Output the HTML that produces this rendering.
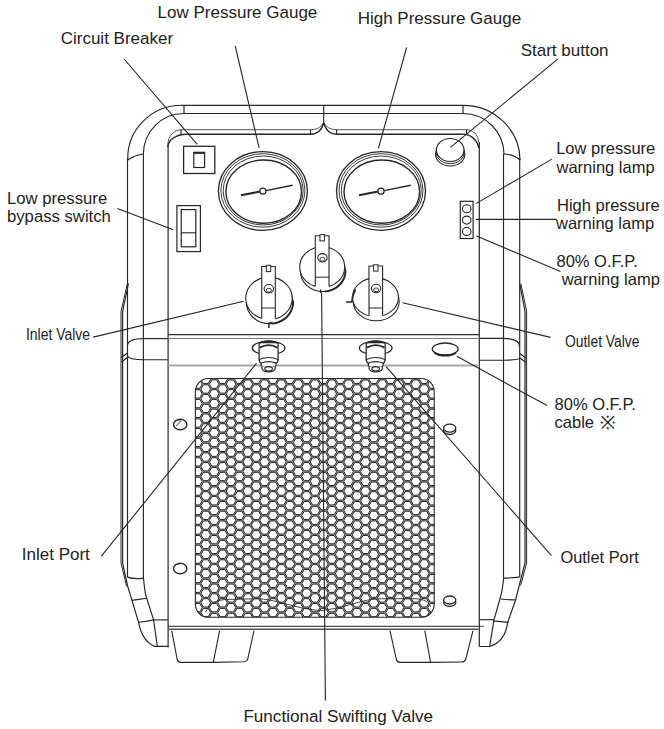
<!DOCTYPE html>
<html><head><meta charset="utf-8">
<style>
html,body{margin:0;padding:0;background:#fff;}
body{width:664px;height:729px;overflow:hidden;}
svg{display:block;}
text{font-family:"Liberation Sans",sans-serif;fill:#222;}
</style></head><body>
<svg width="664" height="729" viewBox="0 0 664 729">
<path d="M127.8,158 L127.8,160 A54,53 0 0 1 181.8,105.3 L463,105.3 A57,55 0 0 1 520,160.3" stroke="#262626" stroke-width="1.15" fill="none"/>
<path d="M143.4,154 A40.5,40.5 0 0 1 184,113.5 L463,113.5 A41,41 0 0 1 504,154.5" stroke="#262626" stroke-width="1.15" fill="none"/>
<line x1="184" y1="105.3" x2="184" y2="113.5" stroke="#262626" stroke-width="1.15"/>
<line x1="463" y1="105.3" x2="463" y2="113.5" stroke="#262626" stroke-width="1.15"/>
<path d="M127.8,160 Q135,155 143.4,154" stroke="#262626" stroke-width="1.15" fill="none"/>
<path d="M504,154 Q514,154.5 520,160" stroke="#262626" stroke-width="1.15" fill="none"/>
<line x1="127.5" y1="158" x2="127.5" y2="577.1" stroke="#262626" stroke-width="1.15"/>
<line x1="143.4" y1="154" x2="143.4" y2="579" stroke="#262626" stroke-width="1.15"/>
<line x1="503.5" y1="154" x2="503.5" y2="578" stroke="#262626" stroke-width="1.15"/>
<line x1="519.7" y1="158" x2="519.7" y2="577.1" stroke="#262626" stroke-width="1.15"/>
<path d="M128.5,283.4 L122.6,311.5 L122.6,563 L127.7,586.4 L138.6,622.3 Q142,641 154.8,646.4 L168.3,646.4" stroke="#262626" stroke-width="1.2" fill="none"/>
<path d="M127.3,284 L121.0,311.5 L121.0,563 L126.6,586.4" stroke="#262626" stroke-width="1.0" fill="none"/>
<path d="M143.5,578.1 Q144.5,589 145.7,595 L153.6,619.9 L157.3,646.4" stroke="#262626" stroke-width="1.15" fill="none"/>
<path d="M127.4,577.1 Q135,579.5 143.5,578.1" stroke="#262626" stroke-width="1.15" fill="none"/>
<path d="M131.6,600.4 Q139,599.5 146.5,598.3" stroke="#262626" stroke-width="1.15" fill="none"/>
<path d="M138.2,622.3 Q146,621.5 153.6,619.9" stroke="#262626" stroke-width="1.15" fill="none"/>
<line x1="153.6" y1="619.9" x2="168.3" y2="619.9" stroke="#262626" stroke-width="1.15"/>
<path d="M519.7,283.7 L525.0,311.2 L525.0,563 L519.2,585.7 L515.6,600 L507.7,622.4 Q505,642 489.6,646.5 L479.4,646.5" stroke="#262626" stroke-width="1.2" fill="none"/>
<path d="M520.9,283.7 L526.6,311.2 L526.6,563 L520.6,585.7" stroke="#262626" stroke-width="1.0" fill="none"/>
<path d="M503.6,578.1 Q502.5,590 500.5,597 L494.1,619.4 L489.6,646.5" stroke="#262626" stroke-width="1.15" fill="none"/>
<path d="M503.6,578.1 Q512,578 519.6,577.1" stroke="#262626" stroke-width="1.15" fill="none"/>
<path d="M500.9,599 Q508,600 515.3,599.8" stroke="#262626" stroke-width="1.15" fill="none"/>
<path d="M493.4,620.9 Q500,621.5 508.5,622.4" stroke="#262626" stroke-width="1.15" fill="none"/>
<line x1="479.4" y1="619.7" x2="493.8" y2="619.7" stroke="#262626" stroke-width="1.15"/>
<path d="M143.4,338.6 L168.3,338.6" stroke="#262626" stroke-width="1.15" fill="none"/>
<path d="M127.5,345 Q128.5,338.6 143.4,338.6" stroke="#262626" stroke-width="1.15" fill="none"/>
<path d="M127.5,356 Q129,359.7 143.4,359.7 L168.3,359.7" stroke="#262626" stroke-width="1.15" fill="none"/>
<path d="M121.3,357.5 L127.5,353 M121.3,362 L127.5,357.5" stroke="#262626" stroke-width="1.15" fill="none"/>
<path d="M479.3,338.4 L503.4,338.4 Q519.7,338.4 519.7,346.9" stroke="#262626" stroke-width="1.15" fill="none"/>
<path d="M479.3,360.2 L503.4,360.2 Q519.7,360.2 519.7,357.8" stroke="#262626" stroke-width="1.15" fill="none"/>
<path d="M519.7,353.5 L526,358 M519.7,357.8 L526,362.5" stroke="#262626" stroke-width="1.15" fill="none"/>
<path d="M167.8,144 A13.5,14.4 0 0 1 181,129.7 L310.5,129.7 Q320,129.7 323.7,122.6 Q327.4,129.7 336.6,129.7 L467,129.7 A12,12.3 0 0 1 478.7,142" stroke="#555" stroke-width="1.0" fill="none"/>
<path d="M167.8,147 A19,13 0 0 1 186.5,134.2 L310.5,134.2 Q321,134 323.7,122.6 Q326.4,134 336.6,134.2 L462,134.2 A16,16 0 0 1 478.7,148" stroke="#262626" stroke-width="1.4" fill="none"/>
<line x1="181" y1="129.7" x2="181" y2="134.2" stroke="#262626" stroke-width="1.15"/>
<line x1="310.5" y1="129.7" x2="310.5" y2="134.2" stroke="#262626" stroke-width="1.15"/>
<line x1="336.6" y1="129.7" x2="336.6" y2="134.2" stroke="#262626" stroke-width="1.15"/>
<line x1="466.5" y1="129.7" x2="466.5" y2="134.2" stroke="#262626" stroke-width="1.15"/>
<line x1="323.7" y1="105.3" x2="323.7" y2="122.6" stroke="#262626" stroke-width="1.15"/>
<line x1="168.1" y1="144" x2="168.1" y2="647.4" stroke="#262626" stroke-width="1.2"/>
<line x1="479.3" y1="142" x2="479.3" y2="646.6" stroke="#262626" stroke-width="1.2"/>
<line x1="168.1" y1="334.6" x2="479.3" y2="334.6" stroke="#333" stroke-width="1.4"/>
<line x1="168.1" y1="338.5" x2="479.3" y2="338.5" stroke="#777" stroke-width="1.0"/>
<line x1="168.1" y1="365.5" x2="479.3" y2="365.5" stroke="#a8a8a8" stroke-width="2.2"/>
<line x1="479.3" y1="360.2" x2="479.3" y2="360.2" stroke="#262626" stroke-width="1.15"/>
<line x1="168.1" y1="626.3" x2="478.5" y2="626.3" stroke="#262626" stroke-width="1.0"/>
<line x1="168.1" y1="629.3" x2="478.5" y2="629.3" stroke="#555" stroke-width="1.6"/>
<line x1="478.5" y1="626.3" x2="484" y2="626.3" stroke="#262626" stroke-width="0.8"/>
<line x1="168.1" y1="620.8" x2="168.1" y2="620.8" stroke="#262626" stroke-width="1.15"/>
<path d="M171.7,630.7 L177.2,659.5 Q178,662.4 181,662.4 L213.3,662.4 L219.6,630.7" stroke="#262626" stroke-width="1.1" fill="none"/>
<path d="M213.3,662.4 L244.5,661.8 Q247,661.5 247.7,659 L254,630.7" stroke="#262626" stroke-width="1.1" fill="none"/>
<path d="M390,630.7 L396.4,659.5 Q397.2,662.4 400,662.4 L430.6,662.4 L424.8,630.7" stroke="#262626" stroke-width="1.1" fill="none"/>
<path d="M430.6,662.4 L462,662 Q465,662 465.8,659 L473,630.7" stroke="#262626" stroke-width="1.1" fill="none"/>
<rect x="183.6" y="146.3" width="31.2" height="27.2" rx="0" stroke="#262626" stroke-width="1.3" fill="none"/>
<rect x="193.8" y="152.4" width="10.8" height="15.1" rx="0" stroke="#262626" stroke-width="1.2" fill="none"/>
<line x1="193.8" y1="152.9" x2="204.6" y2="152.9" stroke="#262626" stroke-width="2"/>
<rect x="176.9" y="205.6" width="23.5" height="46" rx="0" stroke="#262626" stroke-width="1.2" fill="none"/>
<rect x="181.2" y="209.6" width="14.6" height="37.2" rx="0" stroke="#262626" stroke-width="1.2" fill="none"/>
<line x1="181.2" y1="232.8" x2="195.8" y2="232.8" stroke="#262626" stroke-width="1.1"/>
<ellipse cx="262.9" cy="191.0" rx="44.5" ry="39.4" stroke="#262626" stroke-width="1.3" fill="none"/>
<ellipse cx="262.9" cy="190.45" rx="42.0" ry="36.75" stroke="#262626" stroke-width="0.9" fill="none"/>
<ellipse cx="263.2" cy="190.5" rx="40.0" ry="34.5" stroke="#262626" stroke-width="0.9" fill="none"/>
<ellipse cx="263.7" cy="191.65" rx="37.8" ry="31.65" stroke="#262626" stroke-width="1.4" fill="none"/>
<path d="M240.89999999999998,195.3 L259.9,191.6" stroke="#262626" stroke-width="2.0" fill="none"/>
<path d="M265.9,190.6 L292.7,185.3" stroke="#262626" stroke-width="1.4" fill="none"/>
<ellipse cx="262.9" cy="191.2" rx="3.1" ry="3.0" stroke="#262626" stroke-width="1.2" fill="#fff"/>
<ellipse cx="381.0" cy="191.0" rx="44.5" ry="39.4" stroke="#262626" stroke-width="1.3" fill="none"/>
<ellipse cx="381.0" cy="190.45" rx="42.0" ry="36.75" stroke="#262626" stroke-width="0.9" fill="none"/>
<ellipse cx="381.3" cy="190.5" rx="40.0" ry="34.5" stroke="#262626" stroke-width="0.9" fill="none"/>
<ellipse cx="381.8" cy="191.65" rx="37.8" ry="31.65" stroke="#262626" stroke-width="1.4" fill="none"/>
<path d="M359.0,195.3 L378.0,191.6" stroke="#262626" stroke-width="2.0" fill="none"/>
<path d="M384.0,190.6 L410.8,185.3" stroke="#262626" stroke-width="1.4" fill="none"/>
<ellipse cx="381.0" cy="191.2" rx="3.1" ry="3.0" stroke="#262626" stroke-width="1.2" fill="#fff"/>
<ellipse cx="450.2" cy="154.5" rx="14.6" ry="11.5" stroke="#262626" stroke-width="1.1" fill="none"/>
<ellipse cx="450.2" cy="152.5" rx="14.2" ry="11.2" stroke="#262626" stroke-width="1.0" fill="none"/>
<ellipse cx="450.2" cy="150.0" rx="13.8" ry="11.5" stroke="#262626" stroke-width="1.2" fill="#fff"/>
<rect x="460.3" y="201.3" width="12.8" height="37.2" rx="0" stroke="#262626" stroke-width="1.2" fill="none"/>
<ellipse cx="466.7" cy="208.8" rx="4.3" ry="4.0" stroke="#262626" stroke-width="1.1" fill="none"/>
<ellipse cx="466.7" cy="220.1" rx="4.3" ry="4.0" stroke="#262626" stroke-width="1.1" fill="none"/>
<ellipse cx="466.7" cy="231.4" rx="4.3" ry="4.0" stroke="#262626" stroke-width="1.1" fill="none"/>
<ellipse cx="269.7" cy="302.5" rx="23.3" ry="21.2" stroke="#262626" stroke-width="1.1" fill="none"/>
<path d="M292.91,300.65 L293.00,302.50 L292.91,304.35 L292.65,306.18 L292.21,307.99 L291.59,309.75 L290.82,311.46 L289.88,313.10 L288.79,314.66 L287.55,316.13 L286.18,317.49 L284.68,318.74 L283.06,319.87 L281.35,320.86 L279.55,321.71 L277.67,322.42 L275.73,322.98 L273.75,323.38 L271.73,323.62" stroke="#262626" stroke-width="1.9" fill="none"/>
<ellipse cx="269.0" cy="298.3" rx="23.3" ry="21.2" stroke="#262626" stroke-width="1.1" fill="#fff"/>
<rect x="261.7" y="266.5" width="13.600000000000023" height="54.0" fill="#fff"/>
<path d="M261.7,318.43 L261.7,266.5 L275.3,266.5 L275.3,318.71" stroke="#262626" stroke-width="1.1" fill="none"/>
<line x1="261.7" y1="308" x2="275.3" y2="308" stroke="#262626" stroke-width="1.0"/>
<rect x="266.3" y="265.3" width="4.4" height="6.3" rx="0" stroke="#262626" stroke-width="1.0" fill="#fff"/>
<ellipse cx="268.8" cy="288.76" rx="4.7" ry="4.2" stroke="#262626" stroke-width="1.1" fill="none"/>
<ellipse cx="268.8" cy="290.244" rx="2.6" ry="1.9" stroke="#262626" stroke-width="0.9" fill="none"/>
<ellipse cx="322.9" cy="271.2" rx="22.5" ry="20.3" stroke="#262626" stroke-width="1.1" fill="none"/>
<path d="M345.31,269.43 L345.40,271.20 L345.31,272.97 L345.06,274.73 L344.63,276.45 L344.04,278.14 L343.29,279.78 L342.39,281.35 L341.33,282.84 L340.14,284.25 L338.81,285.55 L337.36,286.75 L335.81,287.83 L334.15,288.78 L332.41,289.60 L330.60,290.28 L328.72,290.81 L326.81,291.19 L324.86,291.42" stroke="#262626" stroke-width="1.9" fill="none"/>
<ellipse cx="322.2" cy="267.0" rx="22.5" ry="20.3" stroke="#262626" stroke-width="1.1" fill="#fff"/>
<rect x="315.3" y="235.8" width="13.699999999999989" height="52.5" fill="#fff"/>
<path d="M315.3,286.32 L315.3,235.8 L329.0,235.8 L329.0,286.35" stroke="#262626" stroke-width="1.1" fill="none"/>
<line x1="315.3" y1="277.2" x2="329.0" y2="277.2" stroke="#262626" stroke-width="1.0"/>
<rect x="319.95" y="234.60000000000002" width="4.4" height="6.3" rx="0" stroke="#262626" stroke-width="1.0" fill="#fff"/>
<ellipse cx="322.45" cy="257.865" rx="4.7" ry="4.2" stroke="#262626" stroke-width="1.1" fill="none"/>
<ellipse cx="322.45" cy="259.286" rx="2.6" ry="1.9" stroke="#262626" stroke-width="0.9" fill="none"/>
<ellipse cx="376.2" cy="301.4" rx="23.0" ry="19.3" stroke="#262626" stroke-width="1.1" fill="none"/>
<ellipse cx="375.5" cy="297.2" rx="23.0" ry="19.3" stroke="#262626" stroke-width="1.1" fill="#fff"/>
<rect x="369.0" y="266.0" width="13.600000000000023" height="51.5" fill="#fff"/>
<path d="M369.0,315.71 L369.0,266.0 L382.6,266.0 L382.6,315.56" stroke="#262626" stroke-width="1.1" fill="none"/>
<line x1="369.0" y1="308" x2="382.6" y2="308" stroke="#262626" stroke-width="1.0"/>
<rect x="373.6" y="264.8" width="4.4" height="6.3" rx="0" stroke="#262626" stroke-width="1.0" fill="#fff"/>
<ellipse cx="376.1" cy="288.515" rx="4.7" ry="4.2" stroke="#262626" stroke-width="1.1" fill="none"/>
<ellipse cx="376.1" cy="289.866" rx="2.6" ry="1.9" stroke="#262626" stroke-width="0.9" fill="none"/>
<path d="M268.9,328 L268.9,323.2 L272.5,322.4" stroke="#262626" stroke-width="1.5" fill="none"/>
<path d="M320.6,289.5 L320.6,293" stroke="#262626" stroke-width="1.3" fill="none"/>
<path d="M346,302 L351.8,302 Q352,296 355.5,289.5" stroke="#262626" stroke-width="1.6" fill="none"/>
<ellipse cx="268.6" cy="348.0" rx="16.3" ry="6.75" stroke="#262626" stroke-width="1.3" fill="none"/>
<path d="M259.1,342.5 L259.1,360 Q268.6,364 278.1,360 L278.1,342.5 Z" stroke="#262626" stroke-width="1.25" fill="#fff"/>
<path d="M259.40000000000003,343.2 Q268.6,338.6 277.8,343.2" stroke="#262626" stroke-width="1.1" fill="none"/>
<path d="M259.8,347.6 Q268.6,342.6 277.40000000000003,347.6" stroke="#262626" stroke-width="1.9" fill="none"/>
<path d="M259.1,359.5 Q268.6,355.5 278.1,359.5 L277.20000000000005,362.5 Q268.6,366.3 260.0,362.5 Z" stroke="#262626" stroke-width="1.2" fill="#fff"/>
<path d="M261.0,363.2 Q268.6,360.2 276.20000000000005,363.2 L275.8,366 Q268.6,369 261.40000000000003,366 Z" stroke="#262626" stroke-width="1.2" fill="#fff"/>
<path d="M262.0,366.5 L262.0,368.6 Q262.6,371.8 268.6,371.8 Q274.6,371.8 275.20000000000005,368.6 L275.20000000000005,366.5" stroke="#262626" stroke-width="1.2" fill="#fff"/>
<ellipse cx="268.6" cy="368.8" rx="3.8" ry="2.2" stroke="#262626" stroke-width="1.1" fill="none"/>
<ellipse cx="375.7" cy="348.0" rx="16.3" ry="6.75" stroke="#262626" stroke-width="1.3" fill="none"/>
<path d="M366.2,342.5 L366.2,360 Q375.7,364 385.2,360 L385.2,342.5 Z" stroke="#262626" stroke-width="1.25" fill="#fff"/>
<path d="M366.5,343.2 Q375.7,338.6 384.9,343.2" stroke="#262626" stroke-width="1.1" fill="none"/>
<path d="M366.9,347.6 Q375.7,342.6 384.5,347.6" stroke="#262626" stroke-width="1.9" fill="none"/>
<path d="M366.2,359.5 Q375.7,355.5 385.2,359.5 L384.3,362.5 Q375.7,366.3 367.09999999999997,362.5 Z" stroke="#262626" stroke-width="1.2" fill="#fff"/>
<path d="M368.09999999999997,363.2 Q375.7,360.2 383.3,363.2 L382.9,366 Q375.7,369 368.5,366 Z" stroke="#262626" stroke-width="1.2" fill="#fff"/>
<path d="M369.09999999999997,366.5 L369.09999999999997,368.6 Q369.7,371.8 375.7,371.8 Q381.7,371.8 382.3,368.6 L382.3,366.5" stroke="#262626" stroke-width="1.2" fill="#fff"/>
<ellipse cx="375.7" cy="368.8" rx="3.8" ry="2.2" stroke="#262626" stroke-width="1.1" fill="none"/>
<path d="M434.5,352.5 Q438,355.6 445.2,355.6 Q452.5,355.6 456,352.5" stroke="#262626" stroke-width="2.0" fill="none"/>
<ellipse cx="445.2" cy="349.0" rx="12.9" ry="6.0" stroke="#262626" stroke-width="1.3" fill="none"/>
<ellipse cx="180.2" cy="424.5" rx="6.65" ry="5.25" stroke="#262626" stroke-width="1.4" fill="none"/>
<path d="M174.6,422.7 Q176.2,419.9 180.2,419.9" stroke="#555" stroke-width="0.9" fill="none"/>
<path d="M176,426.2 L181.2,420.3" stroke="#777" stroke-width="1.2" fill="none"/>
<ellipse cx="180.2" cy="568.5" rx="6.65" ry="5.25" stroke="#262626" stroke-width="1.4" fill="none"/>
<path d="M174.6,566.7 Q176.2,563.9 180.2,563.9" stroke="#555" stroke-width="0.9" fill="none"/>
<ellipse cx="449.7" cy="430.5" rx="6.1" ry="4.0" stroke="#262626" stroke-width="1.3" fill="none"/>
<ellipse cx="449.7" cy="428.1" rx="6.1" ry="4.0" stroke="#262626" stroke-width="1.3" fill="#fff"/>
<ellipse cx="449.7" cy="602.4" rx="6.1" ry="4.0" stroke="#262626" stroke-width="1.3" fill="none"/>
<ellipse cx="449.7" cy="600.0" rx="6.1" ry="4.0" stroke="#262626" stroke-width="1.3" fill="#fff"/>
<defs><clipPath id="gc"><rect x="195.4" y="378.5" width="238.79999999999998" height="238.79999999999995" rx="13"/></clipPath></defs>
<g clip-path="url(#gc)"><rect x="195.4" y="378.5" width="238.79999999999998" height="238.79999999999995" fill="#b0b0b0"/><path d="M202.20,374.42 L199.80,378.58 L195.00,378.58 L192.60,374.42 L195.00,370.26 L199.80,370.26Z M202.20,384.14 L199.80,388.30 L195.00,388.30 L192.60,384.14 L195.00,379.98 L199.80,379.98Z M202.20,393.86 L199.80,398.02 L195.00,398.02 L192.60,393.86 L195.00,389.70 L199.80,389.70Z M202.20,403.58 L199.80,407.74 L195.00,407.74 L192.60,403.58 L195.00,399.42 L199.80,399.42Z M202.20,413.30 L199.80,417.46 L195.00,417.46 L192.60,413.30 L195.00,409.14 L199.80,409.14Z M202.20,423.02 L199.80,427.18 L195.00,427.18 L192.60,423.02 L195.00,418.86 L199.80,418.86Z M202.20,432.74 L199.80,436.90 L195.00,436.90 L192.60,432.74 L195.00,428.58 L199.80,428.58Z M202.20,442.46 L199.80,446.62 L195.00,446.62 L192.60,442.46 L195.00,438.30 L199.80,438.30Z M202.20,452.18 L199.80,456.34 L195.00,456.34 L192.60,452.18 L195.00,448.02 L199.80,448.02Z M202.20,461.90 L199.80,466.06 L195.00,466.06 L192.60,461.90 L195.00,457.74 L199.80,457.74Z M202.20,471.62 L199.80,475.78 L195.00,475.78 L192.60,471.62 L195.00,467.46 L199.80,467.46Z M202.20,481.34 L199.80,485.50 L195.00,485.50 L192.60,481.34 L195.00,477.18 L199.80,477.18Z M202.20,491.06 L199.80,495.22 L195.00,495.22 L192.60,491.06 L195.00,486.90 L199.80,486.90Z M202.20,500.78 L199.80,504.94 L195.00,504.94 L192.60,500.78 L195.00,496.62 L199.80,496.62Z M202.20,510.50 L199.80,514.66 L195.00,514.66 L192.60,510.50 L195.00,506.34 L199.80,506.34Z M202.20,520.22 L199.80,524.38 L195.00,524.38 L192.60,520.22 L195.00,516.06 L199.80,516.06Z M202.20,529.94 L199.80,534.10 L195.00,534.10 L192.60,529.94 L195.00,525.78 L199.80,525.78Z M202.20,539.66 L199.80,543.82 L195.00,543.82 L192.60,539.66 L195.00,535.50 L199.80,535.50Z M202.20,549.38 L199.80,553.54 L195.00,553.54 L192.60,549.38 L195.00,545.22 L199.80,545.22Z M202.20,559.10 L199.80,563.26 L195.00,563.26 L192.60,559.10 L195.00,554.94 L199.80,554.94Z M202.20,568.82 L199.80,572.98 L195.00,572.98 L192.60,568.82 L195.00,564.66 L199.80,564.66Z M202.20,578.54 L199.80,582.70 L195.00,582.70 L192.60,578.54 L195.00,574.38 L199.80,574.38Z M202.20,588.26 L199.80,592.42 L195.00,592.42 L192.60,588.26 L195.00,584.10 L199.80,584.10Z M202.20,597.98 L199.80,602.14 L195.00,602.14 L192.60,597.98 L195.00,593.82 L199.80,593.82Z M202.20,607.70 L199.80,611.86 L195.00,611.86 L192.60,607.70 L195.00,603.54 L199.80,603.54Z M202.20,617.42 L199.80,621.58 L195.00,621.58 L192.60,617.42 L195.00,613.26 L199.80,613.26Z M210.60,379.28 L208.20,383.44 L203.40,383.44 L201.00,379.28 L203.40,375.12 L208.20,375.12Z M210.60,389.00 L208.20,393.16 L203.40,393.16 L201.00,389.00 L203.40,384.84 L208.20,384.84Z M210.60,398.72 L208.20,402.88 L203.40,402.88 L201.00,398.72 L203.40,394.56 L208.20,394.56Z M210.60,408.44 L208.20,412.60 L203.40,412.60 L201.00,408.44 L203.40,404.28 L208.20,404.28Z M210.60,418.16 L208.20,422.32 L203.40,422.32 L201.00,418.16 L203.40,414.00 L208.20,414.00Z M210.60,427.88 L208.20,432.04 L203.40,432.04 L201.00,427.88 L203.40,423.72 L208.20,423.72Z M210.60,437.60 L208.20,441.76 L203.40,441.76 L201.00,437.60 L203.40,433.44 L208.20,433.44Z M210.60,447.32 L208.20,451.48 L203.40,451.48 L201.00,447.32 L203.40,443.16 L208.20,443.16Z M210.60,457.04 L208.20,461.20 L203.40,461.20 L201.00,457.04 L203.40,452.88 L208.20,452.88Z M210.60,466.76 L208.20,470.92 L203.40,470.92 L201.00,466.76 L203.40,462.60 L208.20,462.60Z M210.60,476.48 L208.20,480.64 L203.40,480.64 L201.00,476.48 L203.40,472.32 L208.20,472.32Z M210.60,486.20 L208.20,490.36 L203.40,490.36 L201.00,486.20 L203.40,482.04 L208.20,482.04Z M210.60,495.92 L208.20,500.08 L203.40,500.08 L201.00,495.92 L203.40,491.76 L208.20,491.76Z M210.60,505.64 L208.20,509.80 L203.40,509.80 L201.00,505.64 L203.40,501.48 L208.20,501.48Z M210.60,515.36 L208.20,519.52 L203.40,519.52 L201.00,515.36 L203.40,511.20 L208.20,511.20Z M210.60,525.08 L208.20,529.24 L203.40,529.24 L201.00,525.08 L203.40,520.92 L208.20,520.92Z M210.60,534.80 L208.20,538.96 L203.40,538.96 L201.00,534.80 L203.40,530.64 L208.20,530.64Z M210.60,544.52 L208.20,548.68 L203.40,548.68 L201.00,544.52 L203.40,540.36 L208.20,540.36Z M210.60,554.24 L208.20,558.40 L203.40,558.40 L201.00,554.24 L203.40,550.08 L208.20,550.08Z M210.60,563.96 L208.20,568.12 L203.40,568.12 L201.00,563.96 L203.40,559.80 L208.20,559.80Z M210.60,573.68 L208.20,577.84 L203.40,577.84 L201.00,573.68 L203.40,569.52 L208.20,569.52Z M210.60,583.40 L208.20,587.56 L203.40,587.56 L201.00,583.40 L203.40,579.24 L208.20,579.24Z M210.60,593.12 L208.20,597.28 L203.40,597.28 L201.00,593.12 L203.40,588.96 L208.20,588.96Z M210.60,602.84 L208.20,607.00 L203.40,607.00 L201.00,602.84 L203.40,598.68 L208.20,598.68Z M210.60,612.56 L208.20,616.72 L203.40,616.72 L201.00,612.56 L203.40,608.40 L208.20,608.40Z M210.60,622.28 L208.20,626.44 L203.40,626.44 L201.00,622.28 L203.40,618.12 L208.20,618.12Z M219.00,374.42 L216.60,378.58 L211.80,378.58 L209.40,374.42 L211.80,370.26 L216.60,370.26Z M219.00,384.14 L216.60,388.30 L211.80,388.30 L209.40,384.14 L211.80,379.98 L216.60,379.98Z M219.00,393.86 L216.60,398.02 L211.80,398.02 L209.40,393.86 L211.80,389.70 L216.60,389.70Z M219.00,403.58 L216.60,407.74 L211.80,407.74 L209.40,403.58 L211.80,399.42 L216.60,399.42Z M219.00,413.30 L216.60,417.46 L211.80,417.46 L209.40,413.30 L211.80,409.14 L216.60,409.14Z M219.00,423.02 L216.60,427.18 L211.80,427.18 L209.40,423.02 L211.80,418.86 L216.60,418.86Z M219.00,432.74 L216.60,436.90 L211.80,436.90 L209.40,432.74 L211.80,428.58 L216.60,428.58Z M219.00,442.46 L216.60,446.62 L211.80,446.62 L209.40,442.46 L211.80,438.30 L216.60,438.30Z M219.00,452.18 L216.60,456.34 L211.80,456.34 L209.40,452.18 L211.80,448.02 L216.60,448.02Z M219.00,461.90 L216.60,466.06 L211.80,466.06 L209.40,461.90 L211.80,457.74 L216.60,457.74Z M219.00,471.62 L216.60,475.78 L211.80,475.78 L209.40,471.62 L211.80,467.46 L216.60,467.46Z M219.00,481.34 L216.60,485.50 L211.80,485.50 L209.40,481.34 L211.80,477.18 L216.60,477.18Z M219.00,491.06 L216.60,495.22 L211.80,495.22 L209.40,491.06 L211.80,486.90 L216.60,486.90Z M219.00,500.78 L216.60,504.94 L211.80,504.94 L209.40,500.78 L211.80,496.62 L216.60,496.62Z M219.00,510.50 L216.60,514.66 L211.80,514.66 L209.40,510.50 L211.80,506.34 L216.60,506.34Z M219.00,520.22 L216.60,524.38 L211.80,524.38 L209.40,520.22 L211.80,516.06 L216.60,516.06Z M219.00,529.94 L216.60,534.10 L211.80,534.10 L209.40,529.94 L211.80,525.78 L216.60,525.78Z M219.00,539.66 L216.60,543.82 L211.80,543.82 L209.40,539.66 L211.80,535.50 L216.60,535.50Z M219.00,549.38 L216.60,553.54 L211.80,553.54 L209.40,549.38 L211.80,545.22 L216.60,545.22Z M219.00,559.10 L216.60,563.26 L211.80,563.26 L209.40,559.10 L211.80,554.94 L216.60,554.94Z M219.00,568.82 L216.60,572.98 L211.80,572.98 L209.40,568.82 L211.80,564.66 L216.60,564.66Z M219.00,578.54 L216.60,582.70 L211.80,582.70 L209.40,578.54 L211.80,574.38 L216.60,574.38Z M219.00,588.26 L216.60,592.42 L211.80,592.42 L209.40,588.26 L211.80,584.10 L216.60,584.10Z M219.00,597.98 L216.60,602.14 L211.80,602.14 L209.40,597.98 L211.80,593.82 L216.60,593.82Z M219.00,607.70 L216.60,611.86 L211.80,611.86 L209.40,607.70 L211.80,603.54 L216.60,603.54Z M219.00,617.42 L216.60,621.58 L211.80,621.58 L209.40,617.42 L211.80,613.26 L216.60,613.26Z M227.40,379.28 L225.00,383.44 L220.20,383.44 L217.80,379.28 L220.20,375.12 L225.00,375.12Z M227.40,389.00 L225.00,393.16 L220.20,393.16 L217.80,389.00 L220.20,384.84 L225.00,384.84Z M227.40,398.72 L225.00,402.88 L220.20,402.88 L217.80,398.72 L220.20,394.56 L225.00,394.56Z M227.40,408.44 L225.00,412.60 L220.20,412.60 L217.80,408.44 L220.20,404.28 L225.00,404.28Z M227.40,418.16 L225.00,422.32 L220.20,422.32 L217.80,418.16 L220.20,414.00 L225.00,414.00Z M227.40,427.88 L225.00,432.04 L220.20,432.04 L217.80,427.88 L220.20,423.72 L225.00,423.72Z M227.40,437.60 L225.00,441.76 L220.20,441.76 L217.80,437.60 L220.20,433.44 L225.00,433.44Z M227.40,447.32 L225.00,451.48 L220.20,451.48 L217.80,447.32 L220.20,443.16 L225.00,443.16Z M227.40,457.04 L225.00,461.20 L220.20,461.20 L217.80,457.04 L220.20,452.88 L225.00,452.88Z M227.40,466.76 L225.00,470.92 L220.20,470.92 L217.80,466.76 L220.20,462.60 L225.00,462.60Z M227.40,476.48 L225.00,480.64 L220.20,480.64 L217.80,476.48 L220.20,472.32 L225.00,472.32Z M227.40,486.20 L225.00,490.36 L220.20,490.36 L217.80,486.20 L220.20,482.04 L225.00,482.04Z M227.40,495.92 L225.00,500.08 L220.20,500.08 L217.80,495.92 L220.20,491.76 L225.00,491.76Z M227.40,505.64 L225.00,509.80 L220.20,509.80 L217.80,505.64 L220.20,501.48 L225.00,501.48Z M227.40,515.36 L225.00,519.52 L220.20,519.52 L217.80,515.36 L220.20,511.20 L225.00,511.20Z M227.40,525.08 L225.00,529.24 L220.20,529.24 L217.80,525.08 L220.20,520.92 L225.00,520.92Z M227.40,534.80 L225.00,538.96 L220.20,538.96 L217.80,534.80 L220.20,530.64 L225.00,530.64Z M227.40,544.52 L225.00,548.68 L220.20,548.68 L217.80,544.52 L220.20,540.36 L225.00,540.36Z M227.40,554.24 L225.00,558.40 L220.20,558.40 L217.80,554.24 L220.20,550.08 L225.00,550.08Z M227.40,563.96 L225.00,568.12 L220.20,568.12 L217.80,563.96 L220.20,559.80 L225.00,559.80Z M227.40,573.68 L225.00,577.84 L220.20,577.84 L217.80,573.68 L220.20,569.52 L225.00,569.52Z M227.40,583.40 L225.00,587.56 L220.20,587.56 L217.80,583.40 L220.20,579.24 L225.00,579.24Z M227.40,593.12 L225.00,597.28 L220.20,597.28 L217.80,593.12 L220.20,588.96 L225.00,588.96Z M227.40,602.84 L225.00,607.00 L220.20,607.00 L217.80,602.84 L220.20,598.68 L225.00,598.68Z M227.40,612.56 L225.00,616.72 L220.20,616.72 L217.80,612.56 L220.20,608.40 L225.00,608.40Z M227.40,622.28 L225.00,626.44 L220.20,626.44 L217.80,622.28 L220.20,618.12 L225.00,618.12Z M235.80,374.42 L233.40,378.58 L228.60,378.58 L226.20,374.42 L228.60,370.26 L233.40,370.26Z M235.80,384.14 L233.40,388.30 L228.60,388.30 L226.20,384.14 L228.60,379.98 L233.40,379.98Z M235.80,393.86 L233.40,398.02 L228.60,398.02 L226.20,393.86 L228.60,389.70 L233.40,389.70Z M235.80,403.58 L233.40,407.74 L228.60,407.74 L226.20,403.58 L228.60,399.42 L233.40,399.42Z M235.80,413.30 L233.40,417.46 L228.60,417.46 L226.20,413.30 L228.60,409.14 L233.40,409.14Z M235.80,423.02 L233.40,427.18 L228.60,427.18 L226.20,423.02 L228.60,418.86 L233.40,418.86Z M235.80,432.74 L233.40,436.90 L228.60,436.90 L226.20,432.74 L228.60,428.58 L233.40,428.58Z M235.80,442.46 L233.40,446.62 L228.60,446.62 L226.20,442.46 L228.60,438.30 L233.40,438.30Z M235.80,452.18 L233.40,456.34 L228.60,456.34 L226.20,452.18 L228.60,448.02 L233.40,448.02Z M235.80,461.90 L233.40,466.06 L228.60,466.06 L226.20,461.90 L228.60,457.74 L233.40,457.74Z M235.80,471.62 L233.40,475.78 L228.60,475.78 L226.20,471.62 L228.60,467.46 L233.40,467.46Z M235.80,481.34 L233.40,485.50 L228.60,485.50 L226.20,481.34 L228.60,477.18 L233.40,477.18Z M235.80,491.06 L233.40,495.22 L228.60,495.22 L226.20,491.06 L228.60,486.90 L233.40,486.90Z M235.80,500.78 L233.40,504.94 L228.60,504.94 L226.20,500.78 L228.60,496.62 L233.40,496.62Z M235.80,510.50 L233.40,514.66 L228.60,514.66 L226.20,510.50 L228.60,506.34 L233.40,506.34Z M235.80,520.22 L233.40,524.38 L228.60,524.38 L226.20,520.22 L228.60,516.06 L233.40,516.06Z M235.80,529.94 L233.40,534.10 L228.60,534.10 L226.20,529.94 L228.60,525.78 L233.40,525.78Z M235.80,539.66 L233.40,543.82 L228.60,543.82 L226.20,539.66 L228.60,535.50 L233.40,535.50Z M235.80,549.38 L233.40,553.54 L228.60,553.54 L226.20,549.38 L228.60,545.22 L233.40,545.22Z M235.80,559.10 L233.40,563.26 L228.60,563.26 L226.20,559.10 L228.60,554.94 L233.40,554.94Z M235.80,568.82 L233.40,572.98 L228.60,572.98 L226.20,568.82 L228.60,564.66 L233.40,564.66Z M235.80,578.54 L233.40,582.70 L228.60,582.70 L226.20,578.54 L228.60,574.38 L233.40,574.38Z M235.80,588.26 L233.40,592.42 L228.60,592.42 L226.20,588.26 L228.60,584.10 L233.40,584.10Z M235.80,597.98 L233.40,602.14 L228.60,602.14 L226.20,597.98 L228.60,593.82 L233.40,593.82Z M235.80,607.70 L233.40,611.86 L228.60,611.86 L226.20,607.70 L228.60,603.54 L233.40,603.54Z M235.80,617.42 L233.40,621.58 L228.60,621.58 L226.20,617.42 L228.60,613.26 L233.40,613.26Z M244.20,379.28 L241.80,383.44 L237.00,383.44 L234.60,379.28 L237.00,375.12 L241.80,375.12Z M244.20,389.00 L241.80,393.16 L237.00,393.16 L234.60,389.00 L237.00,384.84 L241.80,384.84Z M244.20,398.72 L241.80,402.88 L237.00,402.88 L234.60,398.72 L237.00,394.56 L241.80,394.56Z M244.20,408.44 L241.80,412.60 L237.00,412.60 L234.60,408.44 L237.00,404.28 L241.80,404.28Z M244.20,418.16 L241.80,422.32 L237.00,422.32 L234.60,418.16 L237.00,414.00 L241.80,414.00Z M244.20,427.88 L241.80,432.04 L237.00,432.04 L234.60,427.88 L237.00,423.72 L241.80,423.72Z M244.20,437.60 L241.80,441.76 L237.00,441.76 L234.60,437.60 L237.00,433.44 L241.80,433.44Z M244.20,447.32 L241.80,451.48 L237.00,451.48 L234.60,447.32 L237.00,443.16 L241.80,443.16Z M244.20,457.04 L241.80,461.20 L237.00,461.20 L234.60,457.04 L237.00,452.88 L241.80,452.88Z M244.20,466.76 L241.80,470.92 L237.00,470.92 L234.60,466.76 L237.00,462.60 L241.80,462.60Z M244.20,476.48 L241.80,480.64 L237.00,480.64 L234.60,476.48 L237.00,472.32 L241.80,472.32Z M244.20,486.20 L241.80,490.36 L237.00,490.36 L234.60,486.20 L237.00,482.04 L241.80,482.04Z M244.20,495.92 L241.80,500.08 L237.00,500.08 L234.60,495.92 L237.00,491.76 L241.80,491.76Z M244.20,505.64 L241.80,509.80 L237.00,509.80 L234.60,505.64 L237.00,501.48 L241.80,501.48Z M244.20,515.36 L241.80,519.52 L237.00,519.52 L234.60,515.36 L237.00,511.20 L241.80,511.20Z M244.20,525.08 L241.80,529.24 L237.00,529.24 L234.60,525.08 L237.00,520.92 L241.80,520.92Z M244.20,534.80 L241.80,538.96 L237.00,538.96 L234.60,534.80 L237.00,530.64 L241.80,530.64Z M244.20,544.52 L241.80,548.68 L237.00,548.68 L234.60,544.52 L237.00,540.36 L241.80,540.36Z M244.20,554.24 L241.80,558.40 L237.00,558.40 L234.60,554.24 L237.00,550.08 L241.80,550.08Z M244.20,563.96 L241.80,568.12 L237.00,568.12 L234.60,563.96 L237.00,559.80 L241.80,559.80Z M244.20,573.68 L241.80,577.84 L237.00,577.84 L234.60,573.68 L237.00,569.52 L241.80,569.52Z M244.20,583.40 L241.80,587.56 L237.00,587.56 L234.60,583.40 L237.00,579.24 L241.80,579.24Z M244.20,593.12 L241.80,597.28 L237.00,597.28 L234.60,593.12 L237.00,588.96 L241.80,588.96Z M244.20,602.84 L241.80,607.00 L237.00,607.00 L234.60,602.84 L237.00,598.68 L241.80,598.68Z M244.20,612.56 L241.80,616.72 L237.00,616.72 L234.60,612.56 L237.00,608.40 L241.80,608.40Z M244.20,622.28 L241.80,626.44 L237.00,626.44 L234.60,622.28 L237.00,618.12 L241.80,618.12Z M252.60,374.42 L250.20,378.58 L245.40,378.58 L243.00,374.42 L245.40,370.26 L250.20,370.26Z M252.60,384.14 L250.20,388.30 L245.40,388.30 L243.00,384.14 L245.40,379.98 L250.20,379.98Z M252.60,393.86 L250.20,398.02 L245.40,398.02 L243.00,393.86 L245.40,389.70 L250.20,389.70Z M252.60,403.58 L250.20,407.74 L245.40,407.74 L243.00,403.58 L245.40,399.42 L250.20,399.42Z M252.60,413.30 L250.20,417.46 L245.40,417.46 L243.00,413.30 L245.40,409.14 L250.20,409.14Z M252.60,423.02 L250.20,427.18 L245.40,427.18 L243.00,423.02 L245.40,418.86 L250.20,418.86Z M252.60,432.74 L250.20,436.90 L245.40,436.90 L243.00,432.74 L245.40,428.58 L250.20,428.58Z M252.60,442.46 L250.20,446.62 L245.40,446.62 L243.00,442.46 L245.40,438.30 L250.20,438.30Z M252.60,452.18 L250.20,456.34 L245.40,456.34 L243.00,452.18 L245.40,448.02 L250.20,448.02Z M252.60,461.90 L250.20,466.06 L245.40,466.06 L243.00,461.90 L245.40,457.74 L250.20,457.74Z M252.60,471.62 L250.20,475.78 L245.40,475.78 L243.00,471.62 L245.40,467.46 L250.20,467.46Z M252.60,481.34 L250.20,485.50 L245.40,485.50 L243.00,481.34 L245.40,477.18 L250.20,477.18Z M252.60,491.06 L250.20,495.22 L245.40,495.22 L243.00,491.06 L245.40,486.90 L250.20,486.90Z M252.60,500.78 L250.20,504.94 L245.40,504.94 L243.00,500.78 L245.40,496.62 L250.20,496.62Z M252.60,510.50 L250.20,514.66 L245.40,514.66 L243.00,510.50 L245.40,506.34 L250.20,506.34Z M252.60,520.22 L250.20,524.38 L245.40,524.38 L243.00,520.22 L245.40,516.06 L250.20,516.06Z M252.60,529.94 L250.20,534.10 L245.40,534.10 L243.00,529.94 L245.40,525.78 L250.20,525.78Z M252.60,539.66 L250.20,543.82 L245.40,543.82 L243.00,539.66 L245.40,535.50 L250.20,535.50Z M252.60,549.38 L250.20,553.54 L245.40,553.54 L243.00,549.38 L245.40,545.22 L250.20,545.22Z M252.60,559.10 L250.20,563.26 L245.40,563.26 L243.00,559.10 L245.40,554.94 L250.20,554.94Z M252.60,568.82 L250.20,572.98 L245.40,572.98 L243.00,568.82 L245.40,564.66 L250.20,564.66Z M252.60,578.54 L250.20,582.70 L245.40,582.70 L243.00,578.54 L245.40,574.38 L250.20,574.38Z M252.60,588.26 L250.20,592.42 L245.40,592.42 L243.00,588.26 L245.40,584.10 L250.20,584.10Z M252.60,597.98 L250.20,602.14 L245.40,602.14 L243.00,597.98 L245.40,593.82 L250.20,593.82Z M252.60,607.70 L250.20,611.86 L245.40,611.86 L243.00,607.70 L245.40,603.54 L250.20,603.54Z M252.60,617.42 L250.20,621.58 L245.40,621.58 L243.00,617.42 L245.40,613.26 L250.20,613.26Z M261.00,379.28 L258.60,383.44 L253.80,383.44 L251.40,379.28 L253.80,375.12 L258.60,375.12Z M261.00,389.00 L258.60,393.16 L253.80,393.16 L251.40,389.00 L253.80,384.84 L258.60,384.84Z M261.00,398.72 L258.60,402.88 L253.80,402.88 L251.40,398.72 L253.80,394.56 L258.60,394.56Z M261.00,408.44 L258.60,412.60 L253.80,412.60 L251.40,408.44 L253.80,404.28 L258.60,404.28Z M261.00,418.16 L258.60,422.32 L253.80,422.32 L251.40,418.16 L253.80,414.00 L258.60,414.00Z M261.00,427.88 L258.60,432.04 L253.80,432.04 L251.40,427.88 L253.80,423.72 L258.60,423.72Z M261.00,437.60 L258.60,441.76 L253.80,441.76 L251.40,437.60 L253.80,433.44 L258.60,433.44Z M261.00,447.32 L258.60,451.48 L253.80,451.48 L251.40,447.32 L253.80,443.16 L258.60,443.16Z M261.00,457.04 L258.60,461.20 L253.80,461.20 L251.40,457.04 L253.80,452.88 L258.60,452.88Z M261.00,466.76 L258.60,470.92 L253.80,470.92 L251.40,466.76 L253.80,462.60 L258.60,462.60Z M261.00,476.48 L258.60,480.64 L253.80,480.64 L251.40,476.48 L253.80,472.32 L258.60,472.32Z M261.00,486.20 L258.60,490.36 L253.80,490.36 L251.40,486.20 L253.80,482.04 L258.60,482.04Z M261.00,495.92 L258.60,500.08 L253.80,500.08 L251.40,495.92 L253.80,491.76 L258.60,491.76Z M261.00,505.64 L258.60,509.80 L253.80,509.80 L251.40,505.64 L253.80,501.48 L258.60,501.48Z M261.00,515.36 L258.60,519.52 L253.80,519.52 L251.40,515.36 L253.80,511.20 L258.60,511.20Z M261.00,525.08 L258.60,529.24 L253.80,529.24 L251.40,525.08 L253.80,520.92 L258.60,520.92Z M261.00,534.80 L258.60,538.96 L253.80,538.96 L251.40,534.80 L253.80,530.64 L258.60,530.64Z M261.00,544.52 L258.60,548.68 L253.80,548.68 L251.40,544.52 L253.80,540.36 L258.60,540.36Z M261.00,554.24 L258.60,558.40 L253.80,558.40 L251.40,554.24 L253.80,550.08 L258.60,550.08Z M261.00,563.96 L258.60,568.12 L253.80,568.12 L251.40,563.96 L253.80,559.80 L258.60,559.80Z M261.00,573.68 L258.60,577.84 L253.80,577.84 L251.40,573.68 L253.80,569.52 L258.60,569.52Z M261.00,583.40 L258.60,587.56 L253.80,587.56 L251.40,583.40 L253.80,579.24 L258.60,579.24Z M261.00,593.12 L258.60,597.28 L253.80,597.28 L251.40,593.12 L253.80,588.96 L258.60,588.96Z M261.00,602.84 L258.60,607.00 L253.80,607.00 L251.40,602.84 L253.80,598.68 L258.60,598.68Z M261.00,612.56 L258.60,616.72 L253.80,616.72 L251.40,612.56 L253.80,608.40 L258.60,608.40Z M261.00,622.28 L258.60,626.44 L253.80,626.44 L251.40,622.28 L253.80,618.12 L258.60,618.12Z M269.40,374.42 L267.00,378.58 L262.20,378.58 L259.80,374.42 L262.20,370.26 L267.00,370.26Z M269.40,384.14 L267.00,388.30 L262.20,388.30 L259.80,384.14 L262.20,379.98 L267.00,379.98Z M269.40,393.86 L267.00,398.02 L262.20,398.02 L259.80,393.86 L262.20,389.70 L267.00,389.70Z M269.40,403.58 L267.00,407.74 L262.20,407.74 L259.80,403.58 L262.20,399.42 L267.00,399.42Z M269.40,413.30 L267.00,417.46 L262.20,417.46 L259.80,413.30 L262.20,409.14 L267.00,409.14Z M269.40,423.02 L267.00,427.18 L262.20,427.18 L259.80,423.02 L262.20,418.86 L267.00,418.86Z M269.40,432.74 L267.00,436.90 L262.20,436.90 L259.80,432.74 L262.20,428.58 L267.00,428.58Z M269.40,442.46 L267.00,446.62 L262.20,446.62 L259.80,442.46 L262.20,438.30 L267.00,438.30Z M269.40,452.18 L267.00,456.34 L262.20,456.34 L259.80,452.18 L262.20,448.02 L267.00,448.02Z M269.40,461.90 L267.00,466.06 L262.20,466.06 L259.80,461.90 L262.20,457.74 L267.00,457.74Z M269.40,471.62 L267.00,475.78 L262.20,475.78 L259.80,471.62 L262.20,467.46 L267.00,467.46Z M269.40,481.34 L267.00,485.50 L262.20,485.50 L259.80,481.34 L262.20,477.18 L267.00,477.18Z M269.40,491.06 L267.00,495.22 L262.20,495.22 L259.80,491.06 L262.20,486.90 L267.00,486.90Z M269.40,500.78 L267.00,504.94 L262.20,504.94 L259.80,500.78 L262.20,496.62 L267.00,496.62Z M269.40,510.50 L267.00,514.66 L262.20,514.66 L259.80,510.50 L262.20,506.34 L267.00,506.34Z M269.40,520.22 L267.00,524.38 L262.20,524.38 L259.80,520.22 L262.20,516.06 L267.00,516.06Z M269.40,529.94 L267.00,534.10 L262.20,534.10 L259.80,529.94 L262.20,525.78 L267.00,525.78Z M269.40,539.66 L267.00,543.82 L262.20,543.82 L259.80,539.66 L262.20,535.50 L267.00,535.50Z M269.40,549.38 L267.00,553.54 L262.20,553.54 L259.80,549.38 L262.20,545.22 L267.00,545.22Z M269.40,559.10 L267.00,563.26 L262.20,563.26 L259.80,559.10 L262.20,554.94 L267.00,554.94Z M269.40,568.82 L267.00,572.98 L262.20,572.98 L259.80,568.82 L262.20,564.66 L267.00,564.66Z M269.40,578.54 L267.00,582.70 L262.20,582.70 L259.80,578.54 L262.20,574.38 L267.00,574.38Z M269.40,588.26 L267.00,592.42 L262.20,592.42 L259.80,588.26 L262.20,584.10 L267.00,584.10Z M269.40,597.98 L267.00,602.14 L262.20,602.14 L259.80,597.98 L262.20,593.82 L267.00,593.82Z M269.40,607.70 L267.00,611.86 L262.20,611.86 L259.80,607.70 L262.20,603.54 L267.00,603.54Z M269.40,617.42 L267.00,621.58 L262.20,621.58 L259.80,617.42 L262.20,613.26 L267.00,613.26Z M277.80,379.28 L275.40,383.44 L270.60,383.44 L268.20,379.28 L270.60,375.12 L275.40,375.12Z M277.80,389.00 L275.40,393.16 L270.60,393.16 L268.20,389.00 L270.60,384.84 L275.40,384.84Z M277.80,398.72 L275.40,402.88 L270.60,402.88 L268.20,398.72 L270.60,394.56 L275.40,394.56Z M277.80,408.44 L275.40,412.60 L270.60,412.60 L268.20,408.44 L270.60,404.28 L275.40,404.28Z M277.80,418.16 L275.40,422.32 L270.60,422.32 L268.20,418.16 L270.60,414.00 L275.40,414.00Z M277.80,427.88 L275.40,432.04 L270.60,432.04 L268.20,427.88 L270.60,423.72 L275.40,423.72Z M277.80,437.60 L275.40,441.76 L270.60,441.76 L268.20,437.60 L270.60,433.44 L275.40,433.44Z M277.80,447.32 L275.40,451.48 L270.60,451.48 L268.20,447.32 L270.60,443.16 L275.40,443.16Z M277.80,457.04 L275.40,461.20 L270.60,461.20 L268.20,457.04 L270.60,452.88 L275.40,452.88Z M277.80,466.76 L275.40,470.92 L270.60,470.92 L268.20,466.76 L270.60,462.60 L275.40,462.60Z M277.80,476.48 L275.40,480.64 L270.60,480.64 L268.20,476.48 L270.60,472.32 L275.40,472.32Z M277.80,486.20 L275.40,490.36 L270.60,490.36 L268.20,486.20 L270.60,482.04 L275.40,482.04Z M277.80,495.92 L275.40,500.08 L270.60,500.08 L268.20,495.92 L270.60,491.76 L275.40,491.76Z M277.80,505.64 L275.40,509.80 L270.60,509.80 L268.20,505.64 L270.60,501.48 L275.40,501.48Z M277.80,515.36 L275.40,519.52 L270.60,519.52 L268.20,515.36 L270.60,511.20 L275.40,511.20Z M277.80,525.08 L275.40,529.24 L270.60,529.24 L268.20,525.08 L270.60,520.92 L275.40,520.92Z M277.80,534.80 L275.40,538.96 L270.60,538.96 L268.20,534.80 L270.60,530.64 L275.40,530.64Z M277.80,544.52 L275.40,548.68 L270.60,548.68 L268.20,544.52 L270.60,540.36 L275.40,540.36Z M277.80,554.24 L275.40,558.40 L270.60,558.40 L268.20,554.24 L270.60,550.08 L275.40,550.08Z M277.80,563.96 L275.40,568.12 L270.60,568.12 L268.20,563.96 L270.60,559.80 L275.40,559.80Z M277.80,573.68 L275.40,577.84 L270.60,577.84 L268.20,573.68 L270.60,569.52 L275.40,569.52Z M277.80,583.40 L275.40,587.56 L270.60,587.56 L268.20,583.40 L270.60,579.24 L275.40,579.24Z M277.80,593.12 L275.40,597.28 L270.60,597.28 L268.20,593.12 L270.60,588.96 L275.40,588.96Z M277.80,602.84 L275.40,607.00 L270.60,607.00 L268.20,602.84 L270.60,598.68 L275.40,598.68Z M277.80,612.56 L275.40,616.72 L270.60,616.72 L268.20,612.56 L270.60,608.40 L275.40,608.40Z M277.80,622.28 L275.40,626.44 L270.60,626.44 L268.20,622.28 L270.60,618.12 L275.40,618.12Z M286.20,374.42 L283.80,378.58 L279.00,378.58 L276.60,374.42 L279.00,370.26 L283.80,370.26Z M286.20,384.14 L283.80,388.30 L279.00,388.30 L276.60,384.14 L279.00,379.98 L283.80,379.98Z M286.20,393.86 L283.80,398.02 L279.00,398.02 L276.60,393.86 L279.00,389.70 L283.80,389.70Z M286.20,403.58 L283.80,407.74 L279.00,407.74 L276.60,403.58 L279.00,399.42 L283.80,399.42Z M286.20,413.30 L283.80,417.46 L279.00,417.46 L276.60,413.30 L279.00,409.14 L283.80,409.14Z M286.20,423.02 L283.80,427.18 L279.00,427.18 L276.60,423.02 L279.00,418.86 L283.80,418.86Z M286.20,432.74 L283.80,436.90 L279.00,436.90 L276.60,432.74 L279.00,428.58 L283.80,428.58Z M286.20,442.46 L283.80,446.62 L279.00,446.62 L276.60,442.46 L279.00,438.30 L283.80,438.30Z M286.20,452.18 L283.80,456.34 L279.00,456.34 L276.60,452.18 L279.00,448.02 L283.80,448.02Z M286.20,461.90 L283.80,466.06 L279.00,466.06 L276.60,461.90 L279.00,457.74 L283.80,457.74Z M286.20,471.62 L283.80,475.78 L279.00,475.78 L276.60,471.62 L279.00,467.46 L283.80,467.46Z M286.20,481.34 L283.80,485.50 L279.00,485.50 L276.60,481.34 L279.00,477.18 L283.80,477.18Z M286.20,491.06 L283.80,495.22 L279.00,495.22 L276.60,491.06 L279.00,486.90 L283.80,486.90Z M286.20,500.78 L283.80,504.94 L279.00,504.94 L276.60,500.78 L279.00,496.62 L283.80,496.62Z M286.20,510.50 L283.80,514.66 L279.00,514.66 L276.60,510.50 L279.00,506.34 L283.80,506.34Z M286.20,520.22 L283.80,524.38 L279.00,524.38 L276.60,520.22 L279.00,516.06 L283.80,516.06Z M286.20,529.94 L283.80,534.10 L279.00,534.10 L276.60,529.94 L279.00,525.78 L283.80,525.78Z M286.20,539.66 L283.80,543.82 L279.00,543.82 L276.60,539.66 L279.00,535.50 L283.80,535.50Z M286.20,549.38 L283.80,553.54 L279.00,553.54 L276.60,549.38 L279.00,545.22 L283.80,545.22Z M286.20,559.10 L283.80,563.26 L279.00,563.26 L276.60,559.10 L279.00,554.94 L283.80,554.94Z M286.20,568.82 L283.80,572.98 L279.00,572.98 L276.60,568.82 L279.00,564.66 L283.80,564.66Z M286.20,578.54 L283.80,582.70 L279.00,582.70 L276.60,578.54 L279.00,574.38 L283.80,574.38Z M286.20,588.26 L283.80,592.42 L279.00,592.42 L276.60,588.26 L279.00,584.10 L283.80,584.10Z M286.20,597.98 L283.80,602.14 L279.00,602.14 L276.60,597.98 L279.00,593.82 L283.80,593.82Z M286.20,607.70 L283.80,611.86 L279.00,611.86 L276.60,607.70 L279.00,603.54 L283.80,603.54Z M286.20,617.42 L283.80,621.58 L279.00,621.58 L276.60,617.42 L279.00,613.26 L283.80,613.26Z M294.60,379.28 L292.20,383.44 L287.40,383.44 L285.00,379.28 L287.40,375.12 L292.20,375.12Z M294.60,389.00 L292.20,393.16 L287.40,393.16 L285.00,389.00 L287.40,384.84 L292.20,384.84Z M294.60,398.72 L292.20,402.88 L287.40,402.88 L285.00,398.72 L287.40,394.56 L292.20,394.56Z M294.60,408.44 L292.20,412.60 L287.40,412.60 L285.00,408.44 L287.40,404.28 L292.20,404.28Z M294.60,418.16 L292.20,422.32 L287.40,422.32 L285.00,418.16 L287.40,414.00 L292.20,414.00Z M294.60,427.88 L292.20,432.04 L287.40,432.04 L285.00,427.88 L287.40,423.72 L292.20,423.72Z M294.60,437.60 L292.20,441.76 L287.40,441.76 L285.00,437.60 L287.40,433.44 L292.20,433.44Z M294.60,447.32 L292.20,451.48 L287.40,451.48 L285.00,447.32 L287.40,443.16 L292.20,443.16Z M294.60,457.04 L292.20,461.20 L287.40,461.20 L285.00,457.04 L287.40,452.88 L292.20,452.88Z M294.60,466.76 L292.20,470.92 L287.40,470.92 L285.00,466.76 L287.40,462.60 L292.20,462.60Z M294.60,476.48 L292.20,480.64 L287.40,480.64 L285.00,476.48 L287.40,472.32 L292.20,472.32Z M294.60,486.20 L292.20,490.36 L287.40,490.36 L285.00,486.20 L287.40,482.04 L292.20,482.04Z M294.60,495.92 L292.20,500.08 L287.40,500.08 L285.00,495.92 L287.40,491.76 L292.20,491.76Z M294.60,505.64 L292.20,509.80 L287.40,509.80 L285.00,505.64 L287.40,501.48 L292.20,501.48Z M294.60,515.36 L292.20,519.52 L287.40,519.52 L285.00,515.36 L287.40,511.20 L292.20,511.20Z M294.60,525.08 L292.20,529.24 L287.40,529.24 L285.00,525.08 L287.40,520.92 L292.20,520.92Z M294.60,534.80 L292.20,538.96 L287.40,538.96 L285.00,534.80 L287.40,530.64 L292.20,530.64Z M294.60,544.52 L292.20,548.68 L287.40,548.68 L285.00,544.52 L287.40,540.36 L292.20,540.36Z M294.60,554.24 L292.20,558.40 L287.40,558.40 L285.00,554.24 L287.40,550.08 L292.20,550.08Z M294.60,563.96 L292.20,568.12 L287.40,568.12 L285.00,563.96 L287.40,559.80 L292.20,559.80Z M294.60,573.68 L292.20,577.84 L287.40,577.84 L285.00,573.68 L287.40,569.52 L292.20,569.52Z M294.60,583.40 L292.20,587.56 L287.40,587.56 L285.00,583.40 L287.40,579.24 L292.20,579.24Z M294.60,593.12 L292.20,597.28 L287.40,597.28 L285.00,593.12 L287.40,588.96 L292.20,588.96Z M294.60,602.84 L292.20,607.00 L287.40,607.00 L285.00,602.84 L287.40,598.68 L292.20,598.68Z M294.60,612.56 L292.20,616.72 L287.40,616.72 L285.00,612.56 L287.40,608.40 L292.20,608.40Z M294.60,622.28 L292.20,626.44 L287.40,626.44 L285.00,622.28 L287.40,618.12 L292.20,618.12Z M303.00,374.42 L300.60,378.58 L295.80,378.58 L293.40,374.42 L295.80,370.26 L300.60,370.26Z M303.00,384.14 L300.60,388.30 L295.80,388.30 L293.40,384.14 L295.80,379.98 L300.60,379.98Z M303.00,393.86 L300.60,398.02 L295.80,398.02 L293.40,393.86 L295.80,389.70 L300.60,389.70Z M303.00,403.58 L300.60,407.74 L295.80,407.74 L293.40,403.58 L295.80,399.42 L300.60,399.42Z M303.00,413.30 L300.60,417.46 L295.80,417.46 L293.40,413.30 L295.80,409.14 L300.60,409.14Z M303.00,423.02 L300.60,427.18 L295.80,427.18 L293.40,423.02 L295.80,418.86 L300.60,418.86Z M303.00,432.74 L300.60,436.90 L295.80,436.90 L293.40,432.74 L295.80,428.58 L300.60,428.58Z M303.00,442.46 L300.60,446.62 L295.80,446.62 L293.40,442.46 L295.80,438.30 L300.60,438.30Z M303.00,452.18 L300.60,456.34 L295.80,456.34 L293.40,452.18 L295.80,448.02 L300.60,448.02Z M303.00,461.90 L300.60,466.06 L295.80,466.06 L293.40,461.90 L295.80,457.74 L300.60,457.74Z M303.00,471.62 L300.60,475.78 L295.80,475.78 L293.40,471.62 L295.80,467.46 L300.60,467.46Z M303.00,481.34 L300.60,485.50 L295.80,485.50 L293.40,481.34 L295.80,477.18 L300.60,477.18Z M303.00,491.06 L300.60,495.22 L295.80,495.22 L293.40,491.06 L295.80,486.90 L300.60,486.90Z M303.00,500.78 L300.60,504.94 L295.80,504.94 L293.40,500.78 L295.80,496.62 L300.60,496.62Z M303.00,510.50 L300.60,514.66 L295.80,514.66 L293.40,510.50 L295.80,506.34 L300.60,506.34Z M303.00,520.22 L300.60,524.38 L295.80,524.38 L293.40,520.22 L295.80,516.06 L300.60,516.06Z M303.00,529.94 L300.60,534.10 L295.80,534.10 L293.40,529.94 L295.80,525.78 L300.60,525.78Z M303.00,539.66 L300.60,543.82 L295.80,543.82 L293.40,539.66 L295.80,535.50 L300.60,535.50Z M303.00,549.38 L300.60,553.54 L295.80,553.54 L293.40,549.38 L295.80,545.22 L300.60,545.22Z M303.00,559.10 L300.60,563.26 L295.80,563.26 L293.40,559.10 L295.80,554.94 L300.60,554.94Z M303.00,568.82 L300.60,572.98 L295.80,572.98 L293.40,568.82 L295.80,564.66 L300.60,564.66Z M303.00,578.54 L300.60,582.70 L295.80,582.70 L293.40,578.54 L295.80,574.38 L300.60,574.38Z M303.00,588.26 L300.60,592.42 L295.80,592.42 L293.40,588.26 L295.80,584.10 L300.60,584.10Z M303.00,597.98 L300.60,602.14 L295.80,602.14 L293.40,597.98 L295.80,593.82 L300.60,593.82Z M303.00,607.70 L300.60,611.86 L295.80,611.86 L293.40,607.70 L295.80,603.54 L300.60,603.54Z M303.00,617.42 L300.60,621.58 L295.80,621.58 L293.40,617.42 L295.80,613.26 L300.60,613.26Z M311.40,379.28 L309.00,383.44 L304.20,383.44 L301.80,379.28 L304.20,375.12 L309.00,375.12Z M311.40,389.00 L309.00,393.16 L304.20,393.16 L301.80,389.00 L304.20,384.84 L309.00,384.84Z M311.40,398.72 L309.00,402.88 L304.20,402.88 L301.80,398.72 L304.20,394.56 L309.00,394.56Z M311.40,408.44 L309.00,412.60 L304.20,412.60 L301.80,408.44 L304.20,404.28 L309.00,404.28Z M311.40,418.16 L309.00,422.32 L304.20,422.32 L301.80,418.16 L304.20,414.00 L309.00,414.00Z M311.40,427.88 L309.00,432.04 L304.20,432.04 L301.80,427.88 L304.20,423.72 L309.00,423.72Z M311.40,437.60 L309.00,441.76 L304.20,441.76 L301.80,437.60 L304.20,433.44 L309.00,433.44Z M311.40,447.32 L309.00,451.48 L304.20,451.48 L301.80,447.32 L304.20,443.16 L309.00,443.16Z M311.40,457.04 L309.00,461.20 L304.20,461.20 L301.80,457.04 L304.20,452.88 L309.00,452.88Z M311.40,466.76 L309.00,470.92 L304.20,470.92 L301.80,466.76 L304.20,462.60 L309.00,462.60Z M311.40,476.48 L309.00,480.64 L304.20,480.64 L301.80,476.48 L304.20,472.32 L309.00,472.32Z M311.40,486.20 L309.00,490.36 L304.20,490.36 L301.80,486.20 L304.20,482.04 L309.00,482.04Z M311.40,495.92 L309.00,500.08 L304.20,500.08 L301.80,495.92 L304.20,491.76 L309.00,491.76Z M311.40,505.64 L309.00,509.80 L304.20,509.80 L301.80,505.64 L304.20,501.48 L309.00,501.48Z M311.40,515.36 L309.00,519.52 L304.20,519.52 L301.80,515.36 L304.20,511.20 L309.00,511.20Z M311.40,525.08 L309.00,529.24 L304.20,529.24 L301.80,525.08 L304.20,520.92 L309.00,520.92Z M311.40,534.80 L309.00,538.96 L304.20,538.96 L301.80,534.80 L304.20,530.64 L309.00,530.64Z M311.40,544.52 L309.00,548.68 L304.20,548.68 L301.80,544.52 L304.20,540.36 L309.00,540.36Z M311.40,554.24 L309.00,558.40 L304.20,558.40 L301.80,554.24 L304.20,550.08 L309.00,550.08Z M311.40,563.96 L309.00,568.12 L304.20,568.12 L301.80,563.96 L304.20,559.80 L309.00,559.80Z M311.40,573.68 L309.00,577.84 L304.20,577.84 L301.80,573.68 L304.20,569.52 L309.00,569.52Z M311.40,583.40 L309.00,587.56 L304.20,587.56 L301.80,583.40 L304.20,579.24 L309.00,579.24Z M311.40,593.12 L309.00,597.28 L304.20,597.28 L301.80,593.12 L304.20,588.96 L309.00,588.96Z M311.40,602.84 L309.00,607.00 L304.20,607.00 L301.80,602.84 L304.20,598.68 L309.00,598.68Z M311.40,612.56 L309.00,616.72 L304.20,616.72 L301.80,612.56 L304.20,608.40 L309.00,608.40Z M311.40,622.28 L309.00,626.44 L304.20,626.44 L301.80,622.28 L304.20,618.12 L309.00,618.12Z M319.80,374.42 L317.40,378.58 L312.60,378.58 L310.20,374.42 L312.60,370.26 L317.40,370.26Z M319.80,384.14 L317.40,388.30 L312.60,388.30 L310.20,384.14 L312.60,379.98 L317.40,379.98Z M319.80,393.86 L317.40,398.02 L312.60,398.02 L310.20,393.86 L312.60,389.70 L317.40,389.70Z M319.80,403.58 L317.40,407.74 L312.60,407.74 L310.20,403.58 L312.60,399.42 L317.40,399.42Z M319.80,413.30 L317.40,417.46 L312.60,417.46 L310.20,413.30 L312.60,409.14 L317.40,409.14Z M319.80,423.02 L317.40,427.18 L312.60,427.18 L310.20,423.02 L312.60,418.86 L317.40,418.86Z M319.80,432.74 L317.40,436.90 L312.60,436.90 L310.20,432.74 L312.60,428.58 L317.40,428.58Z M319.80,442.46 L317.40,446.62 L312.60,446.62 L310.20,442.46 L312.60,438.30 L317.40,438.30Z M319.80,452.18 L317.40,456.34 L312.60,456.34 L310.20,452.18 L312.60,448.02 L317.40,448.02Z M319.80,461.90 L317.40,466.06 L312.60,466.06 L310.20,461.90 L312.60,457.74 L317.40,457.74Z M319.80,471.62 L317.40,475.78 L312.60,475.78 L310.20,471.62 L312.60,467.46 L317.40,467.46Z M319.80,481.34 L317.40,485.50 L312.60,485.50 L310.20,481.34 L312.60,477.18 L317.40,477.18Z M319.80,491.06 L317.40,495.22 L312.60,495.22 L310.20,491.06 L312.60,486.90 L317.40,486.90Z M319.80,500.78 L317.40,504.94 L312.60,504.94 L310.20,500.78 L312.60,496.62 L317.40,496.62Z M319.80,510.50 L317.40,514.66 L312.60,514.66 L310.20,510.50 L312.60,506.34 L317.40,506.34Z M319.80,520.22 L317.40,524.38 L312.60,524.38 L310.20,520.22 L312.60,516.06 L317.40,516.06Z M319.80,529.94 L317.40,534.10 L312.60,534.10 L310.20,529.94 L312.60,525.78 L317.40,525.78Z M319.80,539.66 L317.40,543.82 L312.60,543.82 L310.20,539.66 L312.60,535.50 L317.40,535.50Z M319.80,549.38 L317.40,553.54 L312.60,553.54 L310.20,549.38 L312.60,545.22 L317.40,545.22Z M319.80,559.10 L317.40,563.26 L312.60,563.26 L310.20,559.10 L312.60,554.94 L317.40,554.94Z M319.80,568.82 L317.40,572.98 L312.60,572.98 L310.20,568.82 L312.60,564.66 L317.40,564.66Z M319.80,578.54 L317.40,582.70 L312.60,582.70 L310.20,578.54 L312.60,574.38 L317.40,574.38Z M319.80,588.26 L317.40,592.42 L312.60,592.42 L310.20,588.26 L312.60,584.10 L317.40,584.10Z M319.80,597.98 L317.40,602.14 L312.60,602.14 L310.20,597.98 L312.60,593.82 L317.40,593.82Z M319.80,607.70 L317.40,611.86 L312.60,611.86 L310.20,607.70 L312.60,603.54 L317.40,603.54Z M319.80,617.42 L317.40,621.58 L312.60,621.58 L310.20,617.42 L312.60,613.26 L317.40,613.26Z M328.20,379.28 L325.80,383.44 L321.00,383.44 L318.60,379.28 L321.00,375.12 L325.80,375.12Z M328.20,389.00 L325.80,393.16 L321.00,393.16 L318.60,389.00 L321.00,384.84 L325.80,384.84Z M328.20,398.72 L325.80,402.88 L321.00,402.88 L318.60,398.72 L321.00,394.56 L325.80,394.56Z M328.20,408.44 L325.80,412.60 L321.00,412.60 L318.60,408.44 L321.00,404.28 L325.80,404.28Z M328.20,418.16 L325.80,422.32 L321.00,422.32 L318.60,418.16 L321.00,414.00 L325.80,414.00Z M328.20,427.88 L325.80,432.04 L321.00,432.04 L318.60,427.88 L321.00,423.72 L325.80,423.72Z M328.20,437.60 L325.80,441.76 L321.00,441.76 L318.60,437.60 L321.00,433.44 L325.80,433.44Z M328.20,447.32 L325.80,451.48 L321.00,451.48 L318.60,447.32 L321.00,443.16 L325.80,443.16Z M328.20,457.04 L325.80,461.20 L321.00,461.20 L318.60,457.04 L321.00,452.88 L325.80,452.88Z M328.20,466.76 L325.80,470.92 L321.00,470.92 L318.60,466.76 L321.00,462.60 L325.80,462.60Z M328.20,476.48 L325.80,480.64 L321.00,480.64 L318.60,476.48 L321.00,472.32 L325.80,472.32Z M328.20,486.20 L325.80,490.36 L321.00,490.36 L318.60,486.20 L321.00,482.04 L325.80,482.04Z M328.20,495.92 L325.80,500.08 L321.00,500.08 L318.60,495.92 L321.00,491.76 L325.80,491.76Z M328.20,505.64 L325.80,509.80 L321.00,509.80 L318.60,505.64 L321.00,501.48 L325.80,501.48Z M328.20,515.36 L325.80,519.52 L321.00,519.52 L318.60,515.36 L321.00,511.20 L325.80,511.20Z M328.20,525.08 L325.80,529.24 L321.00,529.24 L318.60,525.08 L321.00,520.92 L325.80,520.92Z M328.20,534.80 L325.80,538.96 L321.00,538.96 L318.60,534.80 L321.00,530.64 L325.80,530.64Z M328.20,544.52 L325.80,548.68 L321.00,548.68 L318.60,544.52 L321.00,540.36 L325.80,540.36Z M328.20,554.24 L325.80,558.40 L321.00,558.40 L318.60,554.24 L321.00,550.08 L325.80,550.08Z M328.20,563.96 L325.80,568.12 L321.00,568.12 L318.60,563.96 L321.00,559.80 L325.80,559.80Z M328.20,573.68 L325.80,577.84 L321.00,577.84 L318.60,573.68 L321.00,569.52 L325.80,569.52Z M328.20,583.40 L325.80,587.56 L321.00,587.56 L318.60,583.40 L321.00,579.24 L325.80,579.24Z M328.20,593.12 L325.80,597.28 L321.00,597.28 L318.60,593.12 L321.00,588.96 L325.80,588.96Z M328.20,602.84 L325.80,607.00 L321.00,607.00 L318.60,602.84 L321.00,598.68 L325.80,598.68Z M328.20,612.56 L325.80,616.72 L321.00,616.72 L318.60,612.56 L321.00,608.40 L325.80,608.40Z M328.20,622.28 L325.80,626.44 L321.00,626.44 L318.60,622.28 L321.00,618.12 L325.80,618.12Z M336.60,374.42 L334.20,378.58 L329.40,378.58 L327.00,374.42 L329.40,370.26 L334.20,370.26Z M336.60,384.14 L334.20,388.30 L329.40,388.30 L327.00,384.14 L329.40,379.98 L334.20,379.98Z M336.60,393.86 L334.20,398.02 L329.40,398.02 L327.00,393.86 L329.40,389.70 L334.20,389.70Z M336.60,403.58 L334.20,407.74 L329.40,407.74 L327.00,403.58 L329.40,399.42 L334.20,399.42Z M336.60,413.30 L334.20,417.46 L329.40,417.46 L327.00,413.30 L329.40,409.14 L334.20,409.14Z M336.60,423.02 L334.20,427.18 L329.40,427.18 L327.00,423.02 L329.40,418.86 L334.20,418.86Z M336.60,432.74 L334.20,436.90 L329.40,436.90 L327.00,432.74 L329.40,428.58 L334.20,428.58Z M336.60,442.46 L334.20,446.62 L329.40,446.62 L327.00,442.46 L329.40,438.30 L334.20,438.30Z M336.60,452.18 L334.20,456.34 L329.40,456.34 L327.00,452.18 L329.40,448.02 L334.20,448.02Z M336.60,461.90 L334.20,466.06 L329.40,466.06 L327.00,461.90 L329.40,457.74 L334.20,457.74Z M336.60,471.62 L334.20,475.78 L329.40,475.78 L327.00,471.62 L329.40,467.46 L334.20,467.46Z M336.60,481.34 L334.20,485.50 L329.40,485.50 L327.00,481.34 L329.40,477.18 L334.20,477.18Z M336.60,491.06 L334.20,495.22 L329.40,495.22 L327.00,491.06 L329.40,486.90 L334.20,486.90Z M336.60,500.78 L334.20,504.94 L329.40,504.94 L327.00,500.78 L329.40,496.62 L334.20,496.62Z M336.60,510.50 L334.20,514.66 L329.40,514.66 L327.00,510.50 L329.40,506.34 L334.20,506.34Z M336.60,520.22 L334.20,524.38 L329.40,524.38 L327.00,520.22 L329.40,516.06 L334.20,516.06Z M336.60,529.94 L334.20,534.10 L329.40,534.10 L327.00,529.94 L329.40,525.78 L334.20,525.78Z M336.60,539.66 L334.20,543.82 L329.40,543.82 L327.00,539.66 L329.40,535.50 L334.20,535.50Z M336.60,549.38 L334.20,553.54 L329.40,553.54 L327.00,549.38 L329.40,545.22 L334.20,545.22Z M336.60,559.10 L334.20,563.26 L329.40,563.26 L327.00,559.10 L329.40,554.94 L334.20,554.94Z M336.60,568.82 L334.20,572.98 L329.40,572.98 L327.00,568.82 L329.40,564.66 L334.20,564.66Z M336.60,578.54 L334.20,582.70 L329.40,582.70 L327.00,578.54 L329.40,574.38 L334.20,574.38Z M336.60,588.26 L334.20,592.42 L329.40,592.42 L327.00,588.26 L329.40,584.10 L334.20,584.10Z M336.60,597.98 L334.20,602.14 L329.40,602.14 L327.00,597.98 L329.40,593.82 L334.20,593.82Z M336.60,607.70 L334.20,611.86 L329.40,611.86 L327.00,607.70 L329.40,603.54 L334.20,603.54Z M336.60,617.42 L334.20,621.58 L329.40,621.58 L327.00,617.42 L329.40,613.26 L334.20,613.26Z M345.00,379.28 L342.60,383.44 L337.80,383.44 L335.40,379.28 L337.80,375.12 L342.60,375.12Z M345.00,389.00 L342.60,393.16 L337.80,393.16 L335.40,389.00 L337.80,384.84 L342.60,384.84Z M345.00,398.72 L342.60,402.88 L337.80,402.88 L335.40,398.72 L337.80,394.56 L342.60,394.56Z M345.00,408.44 L342.60,412.60 L337.80,412.60 L335.40,408.44 L337.80,404.28 L342.60,404.28Z M345.00,418.16 L342.60,422.32 L337.80,422.32 L335.40,418.16 L337.80,414.00 L342.60,414.00Z M345.00,427.88 L342.60,432.04 L337.80,432.04 L335.40,427.88 L337.80,423.72 L342.60,423.72Z M345.00,437.60 L342.60,441.76 L337.80,441.76 L335.40,437.60 L337.80,433.44 L342.60,433.44Z M345.00,447.32 L342.60,451.48 L337.80,451.48 L335.40,447.32 L337.80,443.16 L342.60,443.16Z M345.00,457.04 L342.60,461.20 L337.80,461.20 L335.40,457.04 L337.80,452.88 L342.60,452.88Z M345.00,466.76 L342.60,470.92 L337.80,470.92 L335.40,466.76 L337.80,462.60 L342.60,462.60Z M345.00,476.48 L342.60,480.64 L337.80,480.64 L335.40,476.48 L337.80,472.32 L342.60,472.32Z M345.00,486.20 L342.60,490.36 L337.80,490.36 L335.40,486.20 L337.80,482.04 L342.60,482.04Z M345.00,495.92 L342.60,500.08 L337.80,500.08 L335.40,495.92 L337.80,491.76 L342.60,491.76Z M345.00,505.64 L342.60,509.80 L337.80,509.80 L335.40,505.64 L337.80,501.48 L342.60,501.48Z M345.00,515.36 L342.60,519.52 L337.80,519.52 L335.40,515.36 L337.80,511.20 L342.60,511.20Z M345.00,525.08 L342.60,529.24 L337.80,529.24 L335.40,525.08 L337.80,520.92 L342.60,520.92Z M345.00,534.80 L342.60,538.96 L337.80,538.96 L335.40,534.80 L337.80,530.64 L342.60,530.64Z M345.00,544.52 L342.60,548.68 L337.80,548.68 L335.40,544.52 L337.80,540.36 L342.60,540.36Z M345.00,554.24 L342.60,558.40 L337.80,558.40 L335.40,554.24 L337.80,550.08 L342.60,550.08Z M345.00,563.96 L342.60,568.12 L337.80,568.12 L335.40,563.96 L337.80,559.80 L342.60,559.80Z M345.00,573.68 L342.60,577.84 L337.80,577.84 L335.40,573.68 L337.80,569.52 L342.60,569.52Z M345.00,583.40 L342.60,587.56 L337.80,587.56 L335.40,583.40 L337.80,579.24 L342.60,579.24Z M345.00,593.12 L342.60,597.28 L337.80,597.28 L335.40,593.12 L337.80,588.96 L342.60,588.96Z M345.00,602.84 L342.60,607.00 L337.80,607.00 L335.40,602.84 L337.80,598.68 L342.60,598.68Z M345.00,612.56 L342.60,616.72 L337.80,616.72 L335.40,612.56 L337.80,608.40 L342.60,608.40Z M345.00,622.28 L342.60,626.44 L337.80,626.44 L335.40,622.28 L337.80,618.12 L342.60,618.12Z M353.40,374.42 L351.00,378.58 L346.20,378.58 L343.80,374.42 L346.20,370.26 L351.00,370.26Z M353.40,384.14 L351.00,388.30 L346.20,388.30 L343.80,384.14 L346.20,379.98 L351.00,379.98Z M353.40,393.86 L351.00,398.02 L346.20,398.02 L343.80,393.86 L346.20,389.70 L351.00,389.70Z M353.40,403.58 L351.00,407.74 L346.20,407.74 L343.80,403.58 L346.20,399.42 L351.00,399.42Z M353.40,413.30 L351.00,417.46 L346.20,417.46 L343.80,413.30 L346.20,409.14 L351.00,409.14Z M353.40,423.02 L351.00,427.18 L346.20,427.18 L343.80,423.02 L346.20,418.86 L351.00,418.86Z M353.40,432.74 L351.00,436.90 L346.20,436.90 L343.80,432.74 L346.20,428.58 L351.00,428.58Z M353.40,442.46 L351.00,446.62 L346.20,446.62 L343.80,442.46 L346.20,438.30 L351.00,438.30Z M353.40,452.18 L351.00,456.34 L346.20,456.34 L343.80,452.18 L346.20,448.02 L351.00,448.02Z M353.40,461.90 L351.00,466.06 L346.20,466.06 L343.80,461.90 L346.20,457.74 L351.00,457.74Z M353.40,471.62 L351.00,475.78 L346.20,475.78 L343.80,471.62 L346.20,467.46 L351.00,467.46Z M353.40,481.34 L351.00,485.50 L346.20,485.50 L343.80,481.34 L346.20,477.18 L351.00,477.18Z M353.40,491.06 L351.00,495.22 L346.20,495.22 L343.80,491.06 L346.20,486.90 L351.00,486.90Z M353.40,500.78 L351.00,504.94 L346.20,504.94 L343.80,500.78 L346.20,496.62 L351.00,496.62Z M353.40,510.50 L351.00,514.66 L346.20,514.66 L343.80,510.50 L346.20,506.34 L351.00,506.34Z M353.40,520.22 L351.00,524.38 L346.20,524.38 L343.80,520.22 L346.20,516.06 L351.00,516.06Z M353.40,529.94 L351.00,534.10 L346.20,534.10 L343.80,529.94 L346.20,525.78 L351.00,525.78Z M353.40,539.66 L351.00,543.82 L346.20,543.82 L343.80,539.66 L346.20,535.50 L351.00,535.50Z M353.40,549.38 L351.00,553.54 L346.20,553.54 L343.80,549.38 L346.20,545.22 L351.00,545.22Z M353.40,559.10 L351.00,563.26 L346.20,563.26 L343.80,559.10 L346.20,554.94 L351.00,554.94Z M353.40,568.82 L351.00,572.98 L346.20,572.98 L343.80,568.82 L346.20,564.66 L351.00,564.66Z M353.40,578.54 L351.00,582.70 L346.20,582.70 L343.80,578.54 L346.20,574.38 L351.00,574.38Z M353.40,588.26 L351.00,592.42 L346.20,592.42 L343.80,588.26 L346.20,584.10 L351.00,584.10Z M353.40,597.98 L351.00,602.14 L346.20,602.14 L343.80,597.98 L346.20,593.82 L351.00,593.82Z M353.40,607.70 L351.00,611.86 L346.20,611.86 L343.80,607.70 L346.20,603.54 L351.00,603.54Z M353.40,617.42 L351.00,621.58 L346.20,621.58 L343.80,617.42 L346.20,613.26 L351.00,613.26Z M361.80,379.28 L359.40,383.44 L354.60,383.44 L352.20,379.28 L354.60,375.12 L359.40,375.12Z M361.80,389.00 L359.40,393.16 L354.60,393.16 L352.20,389.00 L354.60,384.84 L359.40,384.84Z M361.80,398.72 L359.40,402.88 L354.60,402.88 L352.20,398.72 L354.60,394.56 L359.40,394.56Z M361.80,408.44 L359.40,412.60 L354.60,412.60 L352.20,408.44 L354.60,404.28 L359.40,404.28Z M361.80,418.16 L359.40,422.32 L354.60,422.32 L352.20,418.16 L354.60,414.00 L359.40,414.00Z M361.80,427.88 L359.40,432.04 L354.60,432.04 L352.20,427.88 L354.60,423.72 L359.40,423.72Z M361.80,437.60 L359.40,441.76 L354.60,441.76 L352.20,437.60 L354.60,433.44 L359.40,433.44Z M361.80,447.32 L359.40,451.48 L354.60,451.48 L352.20,447.32 L354.60,443.16 L359.40,443.16Z M361.80,457.04 L359.40,461.20 L354.60,461.20 L352.20,457.04 L354.60,452.88 L359.40,452.88Z M361.80,466.76 L359.40,470.92 L354.60,470.92 L352.20,466.76 L354.60,462.60 L359.40,462.60Z M361.80,476.48 L359.40,480.64 L354.60,480.64 L352.20,476.48 L354.60,472.32 L359.40,472.32Z M361.80,486.20 L359.40,490.36 L354.60,490.36 L352.20,486.20 L354.60,482.04 L359.40,482.04Z M361.80,495.92 L359.40,500.08 L354.60,500.08 L352.20,495.92 L354.60,491.76 L359.40,491.76Z M361.80,505.64 L359.40,509.80 L354.60,509.80 L352.20,505.64 L354.60,501.48 L359.40,501.48Z M361.80,515.36 L359.40,519.52 L354.60,519.52 L352.20,515.36 L354.60,511.20 L359.40,511.20Z M361.80,525.08 L359.40,529.24 L354.60,529.24 L352.20,525.08 L354.60,520.92 L359.40,520.92Z M361.80,534.80 L359.40,538.96 L354.60,538.96 L352.20,534.80 L354.60,530.64 L359.40,530.64Z M361.80,544.52 L359.40,548.68 L354.60,548.68 L352.20,544.52 L354.60,540.36 L359.40,540.36Z M361.80,554.24 L359.40,558.40 L354.60,558.40 L352.20,554.24 L354.60,550.08 L359.40,550.08Z M361.80,563.96 L359.40,568.12 L354.60,568.12 L352.20,563.96 L354.60,559.80 L359.40,559.80Z M361.80,573.68 L359.40,577.84 L354.60,577.84 L352.20,573.68 L354.60,569.52 L359.40,569.52Z M361.80,583.40 L359.40,587.56 L354.60,587.56 L352.20,583.40 L354.60,579.24 L359.40,579.24Z M361.80,593.12 L359.40,597.28 L354.60,597.28 L352.20,593.12 L354.60,588.96 L359.40,588.96Z M361.80,602.84 L359.40,607.00 L354.60,607.00 L352.20,602.84 L354.60,598.68 L359.40,598.68Z M361.80,612.56 L359.40,616.72 L354.60,616.72 L352.20,612.56 L354.60,608.40 L359.40,608.40Z M361.80,622.28 L359.40,626.44 L354.60,626.44 L352.20,622.28 L354.60,618.12 L359.40,618.12Z M370.20,374.42 L367.80,378.58 L363.00,378.58 L360.60,374.42 L363.00,370.26 L367.80,370.26Z M370.20,384.14 L367.80,388.30 L363.00,388.30 L360.60,384.14 L363.00,379.98 L367.80,379.98Z M370.20,393.86 L367.80,398.02 L363.00,398.02 L360.60,393.86 L363.00,389.70 L367.80,389.70Z M370.20,403.58 L367.80,407.74 L363.00,407.74 L360.60,403.58 L363.00,399.42 L367.80,399.42Z M370.20,413.30 L367.80,417.46 L363.00,417.46 L360.60,413.30 L363.00,409.14 L367.80,409.14Z M370.20,423.02 L367.80,427.18 L363.00,427.18 L360.60,423.02 L363.00,418.86 L367.80,418.86Z M370.20,432.74 L367.80,436.90 L363.00,436.90 L360.60,432.74 L363.00,428.58 L367.80,428.58Z M370.20,442.46 L367.80,446.62 L363.00,446.62 L360.60,442.46 L363.00,438.30 L367.80,438.30Z M370.20,452.18 L367.80,456.34 L363.00,456.34 L360.60,452.18 L363.00,448.02 L367.80,448.02Z M370.20,461.90 L367.80,466.06 L363.00,466.06 L360.60,461.90 L363.00,457.74 L367.80,457.74Z M370.20,471.62 L367.80,475.78 L363.00,475.78 L360.60,471.62 L363.00,467.46 L367.80,467.46Z M370.20,481.34 L367.80,485.50 L363.00,485.50 L360.60,481.34 L363.00,477.18 L367.80,477.18Z M370.20,491.06 L367.80,495.22 L363.00,495.22 L360.60,491.06 L363.00,486.90 L367.80,486.90Z M370.20,500.78 L367.80,504.94 L363.00,504.94 L360.60,500.78 L363.00,496.62 L367.80,496.62Z M370.20,510.50 L367.80,514.66 L363.00,514.66 L360.60,510.50 L363.00,506.34 L367.80,506.34Z M370.20,520.22 L367.80,524.38 L363.00,524.38 L360.60,520.22 L363.00,516.06 L367.80,516.06Z M370.20,529.94 L367.80,534.10 L363.00,534.10 L360.60,529.94 L363.00,525.78 L367.80,525.78Z M370.20,539.66 L367.80,543.82 L363.00,543.82 L360.60,539.66 L363.00,535.50 L367.80,535.50Z M370.20,549.38 L367.80,553.54 L363.00,553.54 L360.60,549.38 L363.00,545.22 L367.80,545.22Z M370.20,559.10 L367.80,563.26 L363.00,563.26 L360.60,559.10 L363.00,554.94 L367.80,554.94Z M370.20,568.82 L367.80,572.98 L363.00,572.98 L360.60,568.82 L363.00,564.66 L367.80,564.66Z M370.20,578.54 L367.80,582.70 L363.00,582.70 L360.60,578.54 L363.00,574.38 L367.80,574.38Z M370.20,588.26 L367.80,592.42 L363.00,592.42 L360.60,588.26 L363.00,584.10 L367.80,584.10Z M370.20,597.98 L367.80,602.14 L363.00,602.14 L360.60,597.98 L363.00,593.82 L367.80,593.82Z M370.20,607.70 L367.80,611.86 L363.00,611.86 L360.60,607.70 L363.00,603.54 L367.80,603.54Z M370.20,617.42 L367.80,621.58 L363.00,621.58 L360.60,617.42 L363.00,613.26 L367.80,613.26Z M378.60,379.28 L376.20,383.44 L371.40,383.44 L369.00,379.28 L371.40,375.12 L376.20,375.12Z M378.60,389.00 L376.20,393.16 L371.40,393.16 L369.00,389.00 L371.40,384.84 L376.20,384.84Z M378.60,398.72 L376.20,402.88 L371.40,402.88 L369.00,398.72 L371.40,394.56 L376.20,394.56Z M378.60,408.44 L376.20,412.60 L371.40,412.60 L369.00,408.44 L371.40,404.28 L376.20,404.28Z M378.60,418.16 L376.20,422.32 L371.40,422.32 L369.00,418.16 L371.40,414.00 L376.20,414.00Z M378.60,427.88 L376.20,432.04 L371.40,432.04 L369.00,427.88 L371.40,423.72 L376.20,423.72Z M378.60,437.60 L376.20,441.76 L371.40,441.76 L369.00,437.60 L371.40,433.44 L376.20,433.44Z M378.60,447.32 L376.20,451.48 L371.40,451.48 L369.00,447.32 L371.40,443.16 L376.20,443.16Z M378.60,457.04 L376.20,461.20 L371.40,461.20 L369.00,457.04 L371.40,452.88 L376.20,452.88Z M378.60,466.76 L376.20,470.92 L371.40,470.92 L369.00,466.76 L371.40,462.60 L376.20,462.60Z M378.60,476.48 L376.20,480.64 L371.40,480.64 L369.00,476.48 L371.40,472.32 L376.20,472.32Z M378.60,486.20 L376.20,490.36 L371.40,490.36 L369.00,486.20 L371.40,482.04 L376.20,482.04Z M378.60,495.92 L376.20,500.08 L371.40,500.08 L369.00,495.92 L371.40,491.76 L376.20,491.76Z M378.60,505.64 L376.20,509.80 L371.40,509.80 L369.00,505.64 L371.40,501.48 L376.20,501.48Z M378.60,515.36 L376.20,519.52 L371.40,519.52 L369.00,515.36 L371.40,511.20 L376.20,511.20Z M378.60,525.08 L376.20,529.24 L371.40,529.24 L369.00,525.08 L371.40,520.92 L376.20,520.92Z M378.60,534.80 L376.20,538.96 L371.40,538.96 L369.00,534.80 L371.40,530.64 L376.20,530.64Z M378.60,544.52 L376.20,548.68 L371.40,548.68 L369.00,544.52 L371.40,540.36 L376.20,540.36Z M378.60,554.24 L376.20,558.40 L371.40,558.40 L369.00,554.24 L371.40,550.08 L376.20,550.08Z M378.60,563.96 L376.20,568.12 L371.40,568.12 L369.00,563.96 L371.40,559.80 L376.20,559.80Z M378.60,573.68 L376.20,577.84 L371.40,577.84 L369.00,573.68 L371.40,569.52 L376.20,569.52Z M378.60,583.40 L376.20,587.56 L371.40,587.56 L369.00,583.40 L371.40,579.24 L376.20,579.24Z M378.60,593.12 L376.20,597.28 L371.40,597.28 L369.00,593.12 L371.40,588.96 L376.20,588.96Z M378.60,602.84 L376.20,607.00 L371.40,607.00 L369.00,602.84 L371.40,598.68 L376.20,598.68Z M378.60,612.56 L376.20,616.72 L371.40,616.72 L369.00,612.56 L371.40,608.40 L376.20,608.40Z M378.60,622.28 L376.20,626.44 L371.40,626.44 L369.00,622.28 L371.40,618.12 L376.20,618.12Z M387.00,374.42 L384.60,378.58 L379.80,378.58 L377.40,374.42 L379.80,370.26 L384.60,370.26Z M387.00,384.14 L384.60,388.30 L379.80,388.30 L377.40,384.14 L379.80,379.98 L384.60,379.98Z M387.00,393.86 L384.60,398.02 L379.80,398.02 L377.40,393.86 L379.80,389.70 L384.60,389.70Z M387.00,403.58 L384.60,407.74 L379.80,407.74 L377.40,403.58 L379.80,399.42 L384.60,399.42Z M387.00,413.30 L384.60,417.46 L379.80,417.46 L377.40,413.30 L379.80,409.14 L384.60,409.14Z M387.00,423.02 L384.60,427.18 L379.80,427.18 L377.40,423.02 L379.80,418.86 L384.60,418.86Z M387.00,432.74 L384.60,436.90 L379.80,436.90 L377.40,432.74 L379.80,428.58 L384.60,428.58Z M387.00,442.46 L384.60,446.62 L379.80,446.62 L377.40,442.46 L379.80,438.30 L384.60,438.30Z M387.00,452.18 L384.60,456.34 L379.80,456.34 L377.40,452.18 L379.80,448.02 L384.60,448.02Z M387.00,461.90 L384.60,466.06 L379.80,466.06 L377.40,461.90 L379.80,457.74 L384.60,457.74Z M387.00,471.62 L384.60,475.78 L379.80,475.78 L377.40,471.62 L379.80,467.46 L384.60,467.46Z M387.00,481.34 L384.60,485.50 L379.80,485.50 L377.40,481.34 L379.80,477.18 L384.60,477.18Z M387.00,491.06 L384.60,495.22 L379.80,495.22 L377.40,491.06 L379.80,486.90 L384.60,486.90Z M387.00,500.78 L384.60,504.94 L379.80,504.94 L377.40,500.78 L379.80,496.62 L384.60,496.62Z M387.00,510.50 L384.60,514.66 L379.80,514.66 L377.40,510.50 L379.80,506.34 L384.60,506.34Z M387.00,520.22 L384.60,524.38 L379.80,524.38 L377.40,520.22 L379.80,516.06 L384.60,516.06Z M387.00,529.94 L384.60,534.10 L379.80,534.10 L377.40,529.94 L379.80,525.78 L384.60,525.78Z M387.00,539.66 L384.60,543.82 L379.80,543.82 L377.40,539.66 L379.80,535.50 L384.60,535.50Z M387.00,549.38 L384.60,553.54 L379.80,553.54 L377.40,549.38 L379.80,545.22 L384.60,545.22Z M387.00,559.10 L384.60,563.26 L379.80,563.26 L377.40,559.10 L379.80,554.94 L384.60,554.94Z M387.00,568.82 L384.60,572.98 L379.80,572.98 L377.40,568.82 L379.80,564.66 L384.60,564.66Z M387.00,578.54 L384.60,582.70 L379.80,582.70 L377.40,578.54 L379.80,574.38 L384.60,574.38Z M387.00,588.26 L384.60,592.42 L379.80,592.42 L377.40,588.26 L379.80,584.10 L384.60,584.10Z M387.00,597.98 L384.60,602.14 L379.80,602.14 L377.40,597.98 L379.80,593.82 L384.60,593.82Z M387.00,607.70 L384.60,611.86 L379.80,611.86 L377.40,607.70 L379.80,603.54 L384.60,603.54Z M387.00,617.42 L384.60,621.58 L379.80,621.58 L377.40,617.42 L379.80,613.26 L384.60,613.26Z M395.40,379.28 L393.00,383.44 L388.20,383.44 L385.80,379.28 L388.20,375.12 L393.00,375.12Z M395.40,389.00 L393.00,393.16 L388.20,393.16 L385.80,389.00 L388.20,384.84 L393.00,384.84Z M395.40,398.72 L393.00,402.88 L388.20,402.88 L385.80,398.72 L388.20,394.56 L393.00,394.56Z M395.40,408.44 L393.00,412.60 L388.20,412.60 L385.80,408.44 L388.20,404.28 L393.00,404.28Z M395.40,418.16 L393.00,422.32 L388.20,422.32 L385.80,418.16 L388.20,414.00 L393.00,414.00Z M395.40,427.88 L393.00,432.04 L388.20,432.04 L385.80,427.88 L388.20,423.72 L393.00,423.72Z M395.40,437.60 L393.00,441.76 L388.20,441.76 L385.80,437.60 L388.20,433.44 L393.00,433.44Z M395.40,447.32 L393.00,451.48 L388.20,451.48 L385.80,447.32 L388.20,443.16 L393.00,443.16Z M395.40,457.04 L393.00,461.20 L388.20,461.20 L385.80,457.04 L388.20,452.88 L393.00,452.88Z M395.40,466.76 L393.00,470.92 L388.20,470.92 L385.80,466.76 L388.20,462.60 L393.00,462.60Z M395.40,476.48 L393.00,480.64 L388.20,480.64 L385.80,476.48 L388.20,472.32 L393.00,472.32Z M395.40,486.20 L393.00,490.36 L388.20,490.36 L385.80,486.20 L388.20,482.04 L393.00,482.04Z M395.40,495.92 L393.00,500.08 L388.20,500.08 L385.80,495.92 L388.20,491.76 L393.00,491.76Z M395.40,505.64 L393.00,509.80 L388.20,509.80 L385.80,505.64 L388.20,501.48 L393.00,501.48Z M395.40,515.36 L393.00,519.52 L388.20,519.52 L385.80,515.36 L388.20,511.20 L393.00,511.20Z M395.40,525.08 L393.00,529.24 L388.20,529.24 L385.80,525.08 L388.20,520.92 L393.00,520.92Z M395.40,534.80 L393.00,538.96 L388.20,538.96 L385.80,534.80 L388.20,530.64 L393.00,530.64Z M395.40,544.52 L393.00,548.68 L388.20,548.68 L385.80,544.52 L388.20,540.36 L393.00,540.36Z M395.40,554.24 L393.00,558.40 L388.20,558.40 L385.80,554.24 L388.20,550.08 L393.00,550.08Z M395.40,563.96 L393.00,568.12 L388.20,568.12 L385.80,563.96 L388.20,559.80 L393.00,559.80Z M395.40,573.68 L393.00,577.84 L388.20,577.84 L385.80,573.68 L388.20,569.52 L393.00,569.52Z M395.40,583.40 L393.00,587.56 L388.20,587.56 L385.80,583.40 L388.20,579.24 L393.00,579.24Z M395.40,593.12 L393.00,597.28 L388.20,597.28 L385.80,593.12 L388.20,588.96 L393.00,588.96Z M395.40,602.84 L393.00,607.00 L388.20,607.00 L385.80,602.84 L388.20,598.68 L393.00,598.68Z M395.40,612.56 L393.00,616.72 L388.20,616.72 L385.80,612.56 L388.20,608.40 L393.00,608.40Z M395.40,622.28 L393.00,626.44 L388.20,626.44 L385.80,622.28 L388.20,618.12 L393.00,618.12Z M403.80,374.42 L401.40,378.58 L396.60,378.58 L394.20,374.42 L396.60,370.26 L401.40,370.26Z M403.80,384.14 L401.40,388.30 L396.60,388.30 L394.20,384.14 L396.60,379.98 L401.40,379.98Z M403.80,393.86 L401.40,398.02 L396.60,398.02 L394.20,393.86 L396.60,389.70 L401.40,389.70Z M403.80,403.58 L401.40,407.74 L396.60,407.74 L394.20,403.58 L396.60,399.42 L401.40,399.42Z M403.80,413.30 L401.40,417.46 L396.60,417.46 L394.20,413.30 L396.60,409.14 L401.40,409.14Z M403.80,423.02 L401.40,427.18 L396.60,427.18 L394.20,423.02 L396.60,418.86 L401.40,418.86Z M403.80,432.74 L401.40,436.90 L396.60,436.90 L394.20,432.74 L396.60,428.58 L401.40,428.58Z M403.80,442.46 L401.40,446.62 L396.60,446.62 L394.20,442.46 L396.60,438.30 L401.40,438.30Z M403.80,452.18 L401.40,456.34 L396.60,456.34 L394.20,452.18 L396.60,448.02 L401.40,448.02Z M403.80,461.90 L401.40,466.06 L396.60,466.06 L394.20,461.90 L396.60,457.74 L401.40,457.74Z M403.80,471.62 L401.40,475.78 L396.60,475.78 L394.20,471.62 L396.60,467.46 L401.40,467.46Z M403.80,481.34 L401.40,485.50 L396.60,485.50 L394.20,481.34 L396.60,477.18 L401.40,477.18Z M403.80,491.06 L401.40,495.22 L396.60,495.22 L394.20,491.06 L396.60,486.90 L401.40,486.90Z M403.80,500.78 L401.40,504.94 L396.60,504.94 L394.20,500.78 L396.60,496.62 L401.40,496.62Z M403.80,510.50 L401.40,514.66 L396.60,514.66 L394.20,510.50 L396.60,506.34 L401.40,506.34Z M403.80,520.22 L401.40,524.38 L396.60,524.38 L394.20,520.22 L396.60,516.06 L401.40,516.06Z M403.80,529.94 L401.40,534.10 L396.60,534.10 L394.20,529.94 L396.60,525.78 L401.40,525.78Z M403.80,539.66 L401.40,543.82 L396.60,543.82 L394.20,539.66 L396.60,535.50 L401.40,535.50Z M403.80,549.38 L401.40,553.54 L396.60,553.54 L394.20,549.38 L396.60,545.22 L401.40,545.22Z M403.80,559.10 L401.40,563.26 L396.60,563.26 L394.20,559.10 L396.60,554.94 L401.40,554.94Z M403.80,568.82 L401.40,572.98 L396.60,572.98 L394.20,568.82 L396.60,564.66 L401.40,564.66Z M403.80,578.54 L401.40,582.70 L396.60,582.70 L394.20,578.54 L396.60,574.38 L401.40,574.38Z M403.80,588.26 L401.40,592.42 L396.60,592.42 L394.20,588.26 L396.60,584.10 L401.40,584.10Z M403.80,597.98 L401.40,602.14 L396.60,602.14 L394.20,597.98 L396.60,593.82 L401.40,593.82Z M403.80,607.70 L401.40,611.86 L396.60,611.86 L394.20,607.70 L396.60,603.54 L401.40,603.54Z M403.80,617.42 L401.40,621.58 L396.60,621.58 L394.20,617.42 L396.60,613.26 L401.40,613.26Z M412.20,379.28 L409.80,383.44 L405.00,383.44 L402.60,379.28 L405.00,375.12 L409.80,375.12Z M412.20,389.00 L409.80,393.16 L405.00,393.16 L402.60,389.00 L405.00,384.84 L409.80,384.84Z M412.20,398.72 L409.80,402.88 L405.00,402.88 L402.60,398.72 L405.00,394.56 L409.80,394.56Z M412.20,408.44 L409.80,412.60 L405.00,412.60 L402.60,408.44 L405.00,404.28 L409.80,404.28Z M412.20,418.16 L409.80,422.32 L405.00,422.32 L402.60,418.16 L405.00,414.00 L409.80,414.00Z M412.20,427.88 L409.80,432.04 L405.00,432.04 L402.60,427.88 L405.00,423.72 L409.80,423.72Z M412.20,437.60 L409.80,441.76 L405.00,441.76 L402.60,437.60 L405.00,433.44 L409.80,433.44Z M412.20,447.32 L409.80,451.48 L405.00,451.48 L402.60,447.32 L405.00,443.16 L409.80,443.16Z M412.20,457.04 L409.80,461.20 L405.00,461.20 L402.60,457.04 L405.00,452.88 L409.80,452.88Z M412.20,466.76 L409.80,470.92 L405.00,470.92 L402.60,466.76 L405.00,462.60 L409.80,462.60Z M412.20,476.48 L409.80,480.64 L405.00,480.64 L402.60,476.48 L405.00,472.32 L409.80,472.32Z M412.20,486.20 L409.80,490.36 L405.00,490.36 L402.60,486.20 L405.00,482.04 L409.80,482.04Z M412.20,495.92 L409.80,500.08 L405.00,500.08 L402.60,495.92 L405.00,491.76 L409.80,491.76Z M412.20,505.64 L409.80,509.80 L405.00,509.80 L402.60,505.64 L405.00,501.48 L409.80,501.48Z M412.20,515.36 L409.80,519.52 L405.00,519.52 L402.60,515.36 L405.00,511.20 L409.80,511.20Z M412.20,525.08 L409.80,529.24 L405.00,529.24 L402.60,525.08 L405.00,520.92 L409.80,520.92Z M412.20,534.80 L409.80,538.96 L405.00,538.96 L402.60,534.80 L405.00,530.64 L409.80,530.64Z M412.20,544.52 L409.80,548.68 L405.00,548.68 L402.60,544.52 L405.00,540.36 L409.80,540.36Z M412.20,554.24 L409.80,558.40 L405.00,558.40 L402.60,554.24 L405.00,550.08 L409.80,550.08Z M412.20,563.96 L409.80,568.12 L405.00,568.12 L402.60,563.96 L405.00,559.80 L409.80,559.80Z M412.20,573.68 L409.80,577.84 L405.00,577.84 L402.60,573.68 L405.00,569.52 L409.80,569.52Z M412.20,583.40 L409.80,587.56 L405.00,587.56 L402.60,583.40 L405.00,579.24 L409.80,579.24Z M412.20,593.12 L409.80,597.28 L405.00,597.28 L402.60,593.12 L405.00,588.96 L409.80,588.96Z M412.20,602.84 L409.80,607.00 L405.00,607.00 L402.60,602.84 L405.00,598.68 L409.80,598.68Z M412.20,612.56 L409.80,616.72 L405.00,616.72 L402.60,612.56 L405.00,608.40 L409.80,608.40Z M412.20,622.28 L409.80,626.44 L405.00,626.44 L402.60,622.28 L405.00,618.12 L409.80,618.12Z M420.60,374.42 L418.20,378.58 L413.40,378.58 L411.00,374.42 L413.40,370.26 L418.20,370.26Z M420.60,384.14 L418.20,388.30 L413.40,388.30 L411.00,384.14 L413.40,379.98 L418.20,379.98Z M420.60,393.86 L418.20,398.02 L413.40,398.02 L411.00,393.86 L413.40,389.70 L418.20,389.70Z M420.60,403.58 L418.20,407.74 L413.40,407.74 L411.00,403.58 L413.40,399.42 L418.20,399.42Z M420.60,413.30 L418.20,417.46 L413.40,417.46 L411.00,413.30 L413.40,409.14 L418.20,409.14Z M420.60,423.02 L418.20,427.18 L413.40,427.18 L411.00,423.02 L413.40,418.86 L418.20,418.86Z M420.60,432.74 L418.20,436.90 L413.40,436.90 L411.00,432.74 L413.40,428.58 L418.20,428.58Z M420.60,442.46 L418.20,446.62 L413.40,446.62 L411.00,442.46 L413.40,438.30 L418.20,438.30Z M420.60,452.18 L418.20,456.34 L413.40,456.34 L411.00,452.18 L413.40,448.02 L418.20,448.02Z M420.60,461.90 L418.20,466.06 L413.40,466.06 L411.00,461.90 L413.40,457.74 L418.20,457.74Z M420.60,471.62 L418.20,475.78 L413.40,475.78 L411.00,471.62 L413.40,467.46 L418.20,467.46Z M420.60,481.34 L418.20,485.50 L413.40,485.50 L411.00,481.34 L413.40,477.18 L418.20,477.18Z M420.60,491.06 L418.20,495.22 L413.40,495.22 L411.00,491.06 L413.40,486.90 L418.20,486.90Z M420.60,500.78 L418.20,504.94 L413.40,504.94 L411.00,500.78 L413.40,496.62 L418.20,496.62Z M420.60,510.50 L418.20,514.66 L413.40,514.66 L411.00,510.50 L413.40,506.34 L418.20,506.34Z M420.60,520.22 L418.20,524.38 L413.40,524.38 L411.00,520.22 L413.40,516.06 L418.20,516.06Z M420.60,529.94 L418.20,534.10 L413.40,534.10 L411.00,529.94 L413.40,525.78 L418.20,525.78Z M420.60,539.66 L418.20,543.82 L413.40,543.82 L411.00,539.66 L413.40,535.50 L418.20,535.50Z M420.60,549.38 L418.20,553.54 L413.40,553.54 L411.00,549.38 L413.40,545.22 L418.20,545.22Z M420.60,559.10 L418.20,563.26 L413.40,563.26 L411.00,559.10 L413.40,554.94 L418.20,554.94Z M420.60,568.82 L418.20,572.98 L413.40,572.98 L411.00,568.82 L413.40,564.66 L418.20,564.66Z M420.60,578.54 L418.20,582.70 L413.40,582.70 L411.00,578.54 L413.40,574.38 L418.20,574.38Z M420.60,588.26 L418.20,592.42 L413.40,592.42 L411.00,588.26 L413.40,584.10 L418.20,584.10Z M420.60,597.98 L418.20,602.14 L413.40,602.14 L411.00,597.98 L413.40,593.82 L418.20,593.82Z M420.60,607.70 L418.20,611.86 L413.40,611.86 L411.00,607.70 L413.40,603.54 L418.20,603.54Z M420.60,617.42 L418.20,621.58 L413.40,621.58 L411.00,617.42 L413.40,613.26 L418.20,613.26Z M429.00,379.28 L426.60,383.44 L421.80,383.44 L419.40,379.28 L421.80,375.12 L426.60,375.12Z M429.00,389.00 L426.60,393.16 L421.80,393.16 L419.40,389.00 L421.80,384.84 L426.60,384.84Z M429.00,398.72 L426.60,402.88 L421.80,402.88 L419.40,398.72 L421.80,394.56 L426.60,394.56Z M429.00,408.44 L426.60,412.60 L421.80,412.60 L419.40,408.44 L421.80,404.28 L426.60,404.28Z M429.00,418.16 L426.60,422.32 L421.80,422.32 L419.40,418.16 L421.80,414.00 L426.60,414.00Z M429.00,427.88 L426.60,432.04 L421.80,432.04 L419.40,427.88 L421.80,423.72 L426.60,423.72Z M429.00,437.60 L426.60,441.76 L421.80,441.76 L419.40,437.60 L421.80,433.44 L426.60,433.44Z M429.00,447.32 L426.60,451.48 L421.80,451.48 L419.40,447.32 L421.80,443.16 L426.60,443.16Z M429.00,457.04 L426.60,461.20 L421.80,461.20 L419.40,457.04 L421.80,452.88 L426.60,452.88Z M429.00,466.76 L426.60,470.92 L421.80,470.92 L419.40,466.76 L421.80,462.60 L426.60,462.60Z M429.00,476.48 L426.60,480.64 L421.80,480.64 L419.40,476.48 L421.80,472.32 L426.60,472.32Z M429.00,486.20 L426.60,490.36 L421.80,490.36 L419.40,486.20 L421.80,482.04 L426.60,482.04Z M429.00,495.92 L426.60,500.08 L421.80,500.08 L419.40,495.92 L421.80,491.76 L426.60,491.76Z M429.00,505.64 L426.60,509.80 L421.80,509.80 L419.40,505.64 L421.80,501.48 L426.60,501.48Z M429.00,515.36 L426.60,519.52 L421.80,519.52 L419.40,515.36 L421.80,511.20 L426.60,511.20Z M429.00,525.08 L426.60,529.24 L421.80,529.24 L419.40,525.08 L421.80,520.92 L426.60,520.92Z M429.00,534.80 L426.60,538.96 L421.80,538.96 L419.40,534.80 L421.80,530.64 L426.60,530.64Z M429.00,544.52 L426.60,548.68 L421.80,548.68 L419.40,544.52 L421.80,540.36 L426.60,540.36Z M429.00,554.24 L426.60,558.40 L421.80,558.40 L419.40,554.24 L421.80,550.08 L426.60,550.08Z M429.00,563.96 L426.60,568.12 L421.80,568.12 L419.40,563.96 L421.80,559.80 L426.60,559.80Z M429.00,573.68 L426.60,577.84 L421.80,577.84 L419.40,573.68 L421.80,569.52 L426.60,569.52Z M429.00,583.40 L426.60,587.56 L421.80,587.56 L419.40,583.40 L421.80,579.24 L426.60,579.24Z M429.00,593.12 L426.60,597.28 L421.80,597.28 L419.40,593.12 L421.80,588.96 L426.60,588.96Z M429.00,602.84 L426.60,607.00 L421.80,607.00 L419.40,602.84 L421.80,598.68 L426.60,598.68Z M429.00,612.56 L426.60,616.72 L421.80,616.72 L419.40,612.56 L421.80,608.40 L426.60,608.40Z M429.00,622.28 L426.60,626.44 L421.80,626.44 L419.40,622.28 L421.80,618.12 L426.60,618.12Z M437.40,374.42 L435.00,378.58 L430.20,378.58 L427.80,374.42 L430.20,370.26 L435.00,370.26Z M437.40,384.14 L435.00,388.30 L430.20,388.30 L427.80,384.14 L430.20,379.98 L435.00,379.98Z M437.40,393.86 L435.00,398.02 L430.20,398.02 L427.80,393.86 L430.20,389.70 L435.00,389.70Z M437.40,403.58 L435.00,407.74 L430.20,407.74 L427.80,403.58 L430.20,399.42 L435.00,399.42Z M437.40,413.30 L435.00,417.46 L430.20,417.46 L427.80,413.30 L430.20,409.14 L435.00,409.14Z M437.40,423.02 L435.00,427.18 L430.20,427.18 L427.80,423.02 L430.20,418.86 L435.00,418.86Z M437.40,432.74 L435.00,436.90 L430.20,436.90 L427.80,432.74 L430.20,428.58 L435.00,428.58Z M437.40,442.46 L435.00,446.62 L430.20,446.62 L427.80,442.46 L430.20,438.30 L435.00,438.30Z M437.40,452.18 L435.00,456.34 L430.20,456.34 L427.80,452.18 L430.20,448.02 L435.00,448.02Z M437.40,461.90 L435.00,466.06 L430.20,466.06 L427.80,461.90 L430.20,457.74 L435.00,457.74Z M437.40,471.62 L435.00,475.78 L430.20,475.78 L427.80,471.62 L430.20,467.46 L435.00,467.46Z M437.40,481.34 L435.00,485.50 L430.20,485.50 L427.80,481.34 L430.20,477.18 L435.00,477.18Z M437.40,491.06 L435.00,495.22 L430.20,495.22 L427.80,491.06 L430.20,486.90 L435.00,486.90Z M437.40,500.78 L435.00,504.94 L430.20,504.94 L427.80,500.78 L430.20,496.62 L435.00,496.62Z M437.40,510.50 L435.00,514.66 L430.20,514.66 L427.80,510.50 L430.20,506.34 L435.00,506.34Z M437.40,520.22 L435.00,524.38 L430.20,524.38 L427.80,520.22 L430.20,516.06 L435.00,516.06Z M437.40,529.94 L435.00,534.10 L430.20,534.10 L427.80,529.94 L430.20,525.78 L435.00,525.78Z M437.40,539.66 L435.00,543.82 L430.20,543.82 L427.80,539.66 L430.20,535.50 L435.00,535.50Z M437.40,549.38 L435.00,553.54 L430.20,553.54 L427.80,549.38 L430.20,545.22 L435.00,545.22Z M437.40,559.10 L435.00,563.26 L430.20,563.26 L427.80,559.10 L430.20,554.94 L435.00,554.94Z M437.40,568.82 L435.00,572.98 L430.20,572.98 L427.80,568.82 L430.20,564.66 L435.00,564.66Z M437.40,578.54 L435.00,582.70 L430.20,582.70 L427.80,578.54 L430.20,574.38 L435.00,574.38Z M437.40,588.26 L435.00,592.42 L430.20,592.42 L427.80,588.26 L430.20,584.10 L435.00,584.10Z M437.40,597.98 L435.00,602.14 L430.20,602.14 L427.80,597.98 L430.20,593.82 L435.00,593.82Z M437.40,607.70 L435.00,611.86 L430.20,611.86 L427.80,607.70 L430.20,603.54 L435.00,603.54Z M437.40,617.42 L435.00,621.58 L430.20,621.58 L427.80,617.42 L430.20,613.26 L435.00,613.26Z" stroke="#262626" stroke-width="1.0" fill="#fff"/></g>
<rect x="195.4" y="378.5" width="238.79999999999998" height="238.79999999999995" rx="13" stroke="#262626" stroke-width="1.1" fill="none"/>
<path d="M205.4,612.4 C210,604 214,600.7 225,599.5 L258.3,598.7 C272,599.5 285,604 300,607.5 C312,610 318,610.5 321,610.5 C335,609 345,606 360,602 C370,599 378,598.7 390,598.7 L415,598.7 C424,599 429,602 430.6,606.6" stroke="#333" stroke-width="0.9" fill="none"/>
<line x1="124.1" y1="59" x2="197.3" y2="144.4" stroke="#262626" stroke-width="1.1"/>
<line x1="235.2" y1="46" x2="259.1" y2="147.9" stroke="#262626" stroke-width="1.1"/>
<line x1="406.6" y1="47.5" x2="378.4" y2="148.4" stroke="#262626" stroke-width="1.1"/>
<line x1="558" y1="58.9" x2="450.4" y2="147.4" stroke="#262626" stroke-width="1.1"/>
<line x1="551.9" y1="159.1" x2="476.1" y2="203.6" stroke="#262626" stroke-width="1.1"/>
<line x1="476" y1="219.4" x2="556.8" y2="219.4" stroke="#262626" stroke-width="1.1"/>
<line x1="476.5" y1="236" x2="560.5" y2="271.5" stroke="#262626" stroke-width="1.1"/>
<line x1="117.5" y1="208.6" x2="173.2" y2="229.7" stroke="#262626" stroke-width="1.1"/>
<line x1="93.2" y1="337.1" x2="243.7" y2="301.2" stroke="#262626" stroke-width="1.1"/>
<line x1="402.5" y1="302.7" x2="550.6" y2="337.4" stroke="#262626" stroke-width="1.1"/>
<line x1="456.8" y1="356.3" x2="547.1" y2="405.6" stroke="#262626" stroke-width="1.1"/>
<line x1="101.2" y1="556.3" x2="256.7" y2="363" stroke="#262626" stroke-width="1.1"/>
<line x1="386.1" y1="366.6" x2="551.4" y2="555.6" stroke="#262626" stroke-width="1.1"/>
<line x1="321.6" y1="292.5" x2="325.4" y2="700.4" stroke="#262626" stroke-width="1.1"/>
<text x="157.6" y="17.8" font-size="17">Low Pressure Gauge</text>
<text x="60.7" y="44.0" font-size="17">Circuit Breaker</text>
<text x="357.7" y="24.1" font-size="17">High Pressure Gauge</text>
<text x="520.7" y="55.9" font-size="17">Start button</text>
<text x="556.2" y="153.8" font-size="16.5">Low pressure</text>
<text x="556.5" y="172.5" font-size="16.5">warning lamp</text>
<text x="557" y="211" font-size="16.5">High pressure</text>
<text x="556" y="228.8" font-size="16.5">warning lamp</text>
<text x="556.5" y="266.6" font-size="16.5">80% O.F.P.</text>
<text x="561.7" y="285.4" font-size="16.5">warning lamp</text>
<text x="7.0" y="204.4" font-size="16.7">Low pressure</text>
<text x="7.0" y="222.4" font-size="16.7">bypass switch</text>
<text x="26.0" y="339.5" font-size="16" textLength="64" lengthAdjust="spacingAndGlyphs">Inlet Valve</text>
<text x="565" y="346.7" font-size="16" textLength="74.5" lengthAdjust="spacingAndGlyphs">Outlet Valve</text>
<text x="554.6" y="409.9" font-size="16.5">80% O.F.P.</text>
<text x="554.6" y="427.6" font-size="16.5">cable</text>
<text x="599.6" y="428.6" font-size="18.5">※</text>
<text x="21.8" y="560" font-size="17">Inlet Port</text>
<text x="560.4" y="563.0" font-size="16.4">Outlet Port</text>
<text x="243.4" y="722.1" font-size="17.1">Functional Swifting Valve</text>
</svg></body></html>
